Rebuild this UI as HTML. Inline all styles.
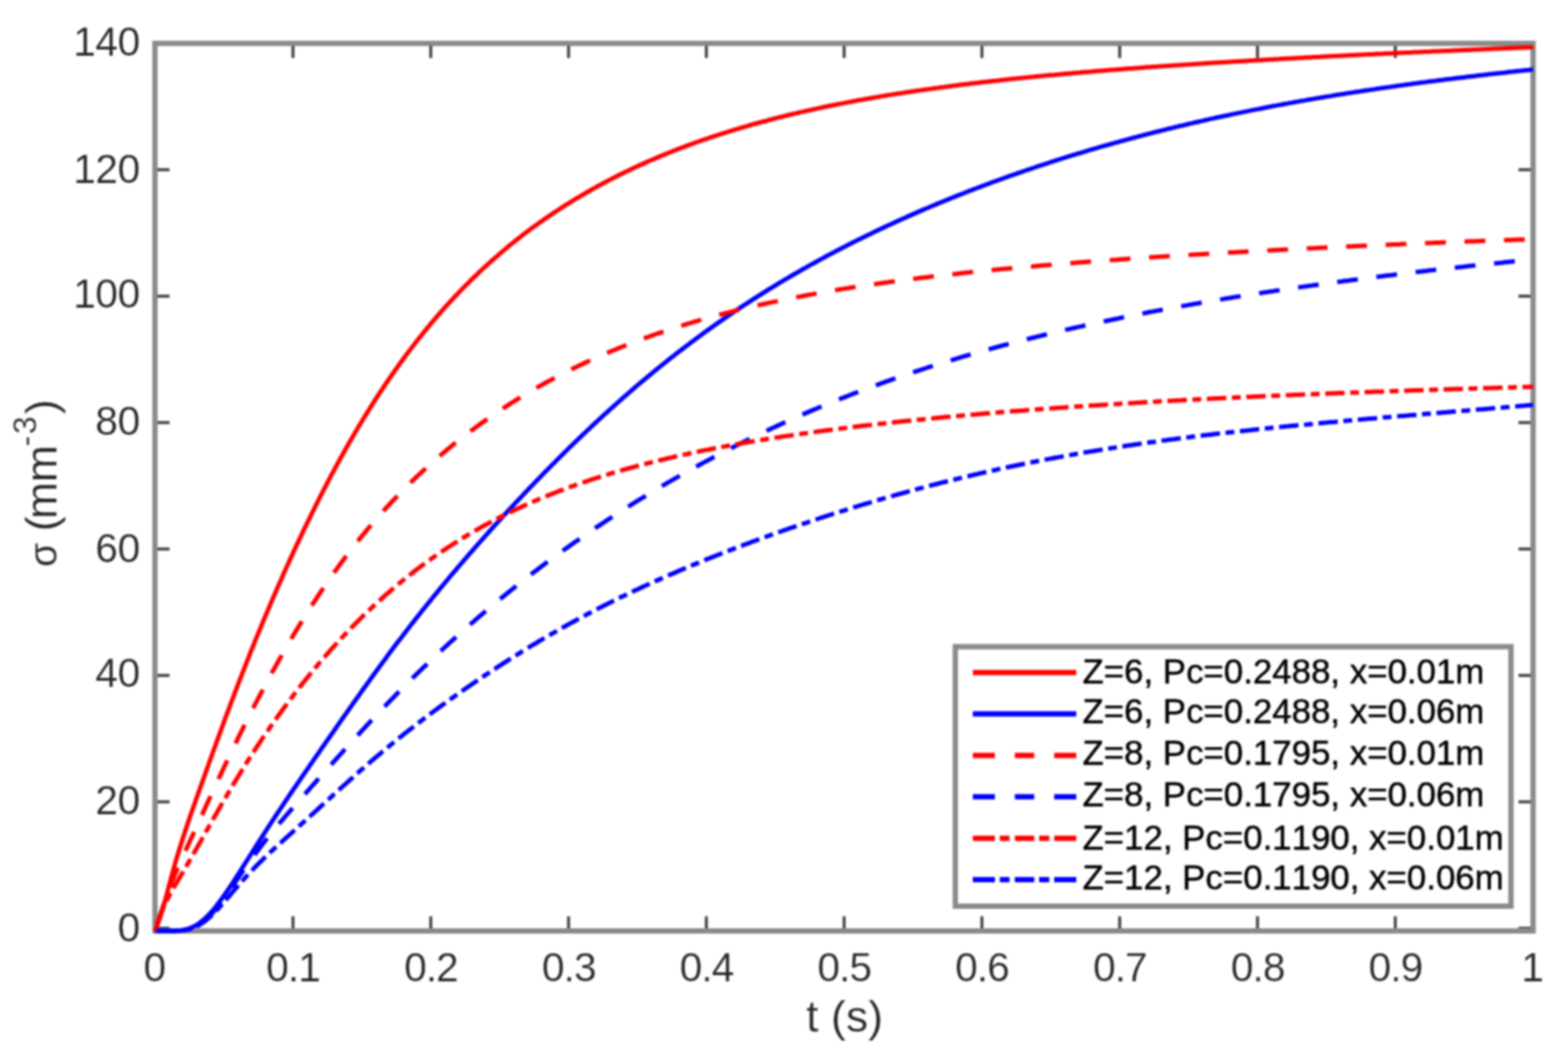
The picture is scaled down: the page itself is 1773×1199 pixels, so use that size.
<!DOCTYPE html>
<html lang="en"><head><meta charset="utf-8"><title>sigma vs t</title>
<style>
html,body{margin:0;padding:0;background:#fff;}
body{width:1773px;height:1199px;overflow:hidden;}
svg{display:block;filter:blur(0.8px);}
text{font-family:"Liberation Sans",sans-serif;fill:#262626;font-kerning:none;stroke:#fff;stroke-width:0.25px;paint-order:fill stroke;}
.tk{font-size:46px;}
.lb{font-size:50.5px;}
.lg{font-size:39.4px;fill:#000;stroke:#000;stroke-width:0.5px;}
</style></head><body>
<svg width="1773" height="1199" viewBox="0 0 1773 1199">
<rect x="0" y="0" width="1773" height="1199" fill="#ffffff"/>
<g stroke="#444444" stroke-width="3.4" fill="none"><line x1="175.50" y1="1053.0" x2="175.50" y2="1036.5"/><line x1="175.50" y1="49.1" x2="175.50" y2="65.6"/><line x1="331.30" y1="1053.0" x2="331.30" y2="1036.5"/><line x1="331.30" y1="49.1" x2="331.30" y2="65.6"/><line x1="487.10" y1="1053.0" x2="487.10" y2="1036.5"/><line x1="487.10" y1="49.1" x2="487.10" y2="65.6"/><line x1="642.90" y1="1053.0" x2="642.90" y2="1036.5"/><line x1="642.90" y1="49.1" x2="642.90" y2="65.6"/><line x1="798.70" y1="1053.0" x2="798.70" y2="1036.5"/><line x1="798.70" y1="49.1" x2="798.70" y2="65.6"/><line x1="954.50" y1="1053.0" x2="954.50" y2="1036.5"/><line x1="954.50" y1="49.1" x2="954.50" y2="65.6"/><line x1="1110.30" y1="1053.0" x2="1110.30" y2="1036.5"/><line x1="1110.30" y1="49.1" x2="1110.30" y2="65.6"/><line x1="1266.10" y1="1053.0" x2="1266.10" y2="1036.5"/><line x1="1266.10" y1="49.1" x2="1266.10" y2="65.6"/><line x1="1421.90" y1="1053.0" x2="1421.90" y2="1036.5"/><line x1="1421.90" y1="49.1" x2="1421.90" y2="65.6"/><line x1="1577.70" y1="1053.0" x2="1577.70" y2="1036.5"/><line x1="1577.70" y1="49.1" x2="1577.70" y2="65.6"/><line x1="1733.50" y1="1053.0" x2="1733.50" y2="1036.5"/><line x1="1733.50" y1="49.1" x2="1733.50" y2="65.6"/><line x1="175.25" y1="1050.00" x2="191.75" y2="1050.00"/><line x1="1733.5" y1="1050.00" x2="1717.0" y2="1050.00"/><line x1="175.25" y1="907.00" x2="191.75" y2="907.00"/><line x1="1733.5" y1="907.00" x2="1717.0" y2="907.00"/><line x1="175.25" y1="764.00" x2="191.75" y2="764.00"/><line x1="1733.5" y1="764.00" x2="1717.0" y2="764.00"/><line x1="175.25" y1="621.00" x2="191.75" y2="621.00"/><line x1="1733.5" y1="621.00" x2="1717.0" y2="621.00"/><line x1="175.25" y1="478.00" x2="191.75" y2="478.00"/><line x1="1733.5" y1="478.00" x2="1717.0" y2="478.00"/><line x1="175.25" y1="335.00" x2="191.75" y2="335.00"/><line x1="1733.5" y1="335.00" x2="1717.0" y2="335.00"/><line x1="175.25" y1="192.00" x2="191.75" y2="192.00"/><line x1="1733.5" y1="192.00" x2="1717.0" y2="192.00"/><line x1="175.25" y1="49.00" x2="191.75" y2="49.00"/><line x1="1733.5" y1="49.00" x2="1717.0" y2="49.00"/></g>
<rect x="175.25" y="49.1" width="1558.25" height="1003.9" fill="none" stroke="#8a8a8a" stroke-width="6.0"/>
<g fill="none" stroke-width="5.0" stroke-linejoin="round">
<path id="red_solid" stroke="#ff0000" d="M175.2,1053.0 L176.2,1050.7 L177.1,1048.4 L178.0,1046.0 L178.9,1043.7 L179.8,1041.3 L180.6,1039.0 L181.4,1036.6 L182.1,1034.2 L182.9,1031.8 L183.6,1029.4 L184.3,1027.0 L185.0,1024.6 L185.6,1022.2 L186.3,1019.8 L187.0,1017.4 L187.6,1015.0 L188.3,1012.6 L188.9,1010.2 L189.6,1007.7 L190.2,1005.3 L190.8,1002.9 L191.5,1000.5 L192.1,998.1 L192.8,995.7 L193.4,993.3 L194.1,990.9 L194.8,988.4 L195.4,986.0 L196.1,983.6 L196.8,981.2 L197.5,978.8 L198.1,976.4 L198.8,974.0 L199.5,971.6 L200.2,969.2 L201.0,966.8 L201.7,964.4 L202.4,962.0 L203.1,959.6 L203.9,957.2 L204.6,954.9 L205.4,952.5 L206.1,950.1 L206.9,947.7 L207.7,945.3 L208.5,943.0 L209.2,940.6 L210.0,938.2 L210.8,935.8 L211.6,933.5 L212.4,931.1 L213.2,928.7 L214.0,926.4 L214.8,924.0 L215.6,921.6 L216.5,919.3 L217.3,916.9 L218.1,914.6 L218.9,912.2 L219.8,909.8 L220.6,907.5 L221.4,905.1 L222.2,902.8 L223.1,900.4 L223.9,898.0 L224.7,895.7 L225.6,893.3 L226.4,891.0 L227.3,888.6 L228.1,886.3 L228.9,883.9 L229.8,881.6 L230.6,879.2 L231.5,876.8 L232.3,874.5 L233.1,872.1 L234.0,869.8 L234.8,867.4 L235.7,865.1 L236.5,862.7 L237.4,860.4 L238.2,858.0 L239.0,855.7 L239.9,853.3 L240.7,851.0 L241.6,848.6 L242.4,846.3 L243.3,843.9 L244.1,841.6 L245.0,839.2 L245.8,836.9 L246.7,834.5 L247.6,832.2 L248.4,829.8 L249.3,827.5 L250.1,825.1 L251.0,822.8 L251.9,820.4 L252.7,818.1 L253.6,815.7 L254.4,813.4 L255.3,811.0 L256.2,808.7 L257.0,806.4 L257.9,804.0 L258.8,801.7 L259.7,799.3 L260.5,797.0 L261.4,794.6 L262.3,792.3 L263.2,790.0 L264.1,787.6 L264.9,785.3 L265.8,782.9 L266.7,780.6 L267.6,778.3 L268.5,775.9 L269.4,773.6 L270.3,771.3 L271.2,768.9 L272.1,766.6 L273.0,764.3 L273.9,761.9 L274.8,759.6 L275.7,757.3 L276.6,754.9 L277.5,752.6 L278.4,750.3 L279.3,748.0 L280.3,745.6 L281.2,743.3 L282.1,741.0 L283.0,738.7 L283.9,736.3 L284.9,734.0 L285.8,731.7 L286.7,729.4 L287.7,727.1 L288.6,724.7 L289.5,722.4 L290.5,720.1 L291.4,717.8 L292.4,715.5 L293.3,713.2 L294.3,710.9 L295.2,708.5 L296.2,706.2 L297.1,703.9 L298.1,701.6 L299.1,699.3 L300.0,697.0 L301.0,694.7 L302.0,692.4 L302.9,690.1 L303.9,687.8 L304.9,685.5 L305.8,683.2 L306.8,680.9 L307.8,678.6 L308.8,676.3 L309.8,674.0 L310.8,671.7 L311.8,669.4 L312.8,667.1 L313.8,664.8 L314.8,662.5 L315.8,660.2 L316.8,657.9 L317.8,655.7 L318.8,653.4 L319.8,651.1 L320.8,648.8 L321.8,646.5 L322.8,644.2 L323.9,641.9 L324.9,639.7 L325.9,637.4 L327.0,635.1 L328.0,632.8 L329.0,630.6 L330.1,628.3 L331.1,626.0 L332.1,623.7 L333.2,621.5 L334.2,619.2 L335.3,616.9 L336.4,614.7 L337.4,612.4 L338.5,610.1 L339.5,607.9 L340.6,605.6 L341.7,603.4 L342.8,601.1 L343.8,598.8 L344.9,596.6 L346.0,594.3 L347.1,592.1 L348.2,589.8 L349.3,587.6 L350.4,585.3 L351.5,583.1 L352.6,580.8 L353.7,578.6 L354.8,576.4 L355.9,574.1 L357.0,571.9 L358.1,569.7 L359.2,567.4 L360.4,565.2 L361.5,563.0 L362.6,560.7 L363.8,558.5 L364.9,556.3 L366.0,554.1 L367.2,551.8 L368.3,549.6 L369.5,547.4 L370.6,545.2 L371.8,543.0 L373.0,540.7 L374.1,538.5 L375.3,536.3 L376.5,534.1 L377.7,531.9 L378.9,529.7 L380.0,527.5 L381.2,525.3 L382.4,523.1 L383.6,520.9 L384.8,518.7 L386.0,516.6 L387.3,514.4 L388.5,512.2 L389.7,510.0 L390.9,507.8 L392.1,505.6 L393.4,503.5 L394.6,501.3 L395.9,499.1 L397.1,497.0 L398.4,494.8 L399.6,492.6 L400.9,490.5 L402.1,488.3 L403.4,486.2 L404.7,484.0 L406.0,481.9 L407.2,479.7 L408.5,477.6 L409.8,475.4 L411.1,473.3 L412.4,471.2 L413.7,469.0 L415.1,466.9 L416.4,464.8 L417.7,462.7 L419.0,460.6 L420.4,458.4 L421.7,456.3 L423.0,454.2 L424.4,452.1 L425.7,450.0 L427.1,447.9 L428.5,445.8 L429.8,443.7 L431.2,441.6 L432.6,439.6 L434.0,437.5 L435.4,435.4 L436.8,433.3 L438.2,431.3 L439.6,429.2 L441.0,427.1 L442.4,425.1 L443.8,423.0 L445.3,421.0 L446.7,418.9 L448.2,416.9 L449.6,414.8 L451.1,412.8 L452.5,410.8 L454.0,408.8 L455.5,406.7 L456.9,404.7 L458.4,402.7 L459.9,400.7 L461.4,398.7 L462.9,396.7 L464.4,394.7 L465.9,392.7 L467.5,390.7 L469.0,388.8 L470.5,386.8 L472.1,384.8 L473.6,382.9 L475.2,380.9 L476.7,378.9 L478.3,377.0 L479.9,375.1 L481.4,373.1 L483.0,371.2 L484.6,369.3 L486.2,367.3 L487.8,365.4 L489.4,363.5 L491.0,361.6 L492.7,359.7 L494.3,357.8 L495.9,355.9 L497.6,354.0 L499.2,352.1 L500.9,350.3 L502.5,348.4 L504.2,346.5 L505.9,344.7 L507.6,342.8 L509.3,341.0 L511.0,339.2 L512.7,337.3 L514.4,335.5 L516.1,333.7 L517.8,331.9 L519.5,330.1 L521.3,328.3 L523.0,326.5 L524.8,324.7 L526.5,322.9 L528.3,321.2 L530.1,319.4 L531.8,317.6 L533.6,315.9 L535.4,314.1 L537.2,312.4 L539.0,310.7 L540.8,308.9 L542.6,307.2 L544.5,305.5 L546.3,303.8 L548.1,302.1 L550.0,300.4 L551.8,298.7 L553.7,297.1 L555.5,295.4 L557.4,293.7 L559.3,292.1 L561.2,290.4 L563.1,288.8 L564.9,287.2 L566.8,285.5 L568.8,283.9 L570.7,282.3 L572.6,280.7 L574.5,279.1 L576.4,277.5 L578.4,275.9 L580.3,274.4 L582.3,272.8 L584.2,271.3 L586.2,269.7 L588.2,268.2 L590.1,266.6 L592.1,265.1 L594.1,263.6 L596.1,262.1 L598.1,260.6 L600.1,259.1 L602.1,257.6 L604.1,256.1 L606.2,254.7 L608.2,253.2 L610.2,251.7 L612.3,250.3 L614.3,248.9 L616.4,247.4 L618.4,246.0 L620.5,244.6 L622.5,243.2 L624.6,241.8 L626.7,240.4 L628.8,239.0 L630.9,237.6 L633.0,236.3 L635.1,234.9 L637.2,233.6 L639.3,232.2 L641.4,230.9 L643.5,229.6 L645.6,228.3 L647.8,226.9 L649.9,225.6 L652.0,224.3 L654.2,223.1 L656.3,221.8 L658.5,220.5 L660.6,219.3 L662.8,218.0 L665.0,216.8 L667.1,215.5 L669.3,214.3 L671.5,213.1 L673.7,211.9 L675.9,210.6 L678.1,209.5 L680.3,208.3 L682.5,207.1 L684.7,205.9 L686.9,204.7 L689.1,203.6 L691.3,202.4 L693.6,201.3 L695.8,200.2 L698.0,199.0 L700.2,197.9 L702.5,196.8 L704.7,195.7 L707.0,194.6 L709.2,193.5 L711.5,192.4 L713.7,191.4 L716.0,190.3 L718.3,189.2 L720.5,188.2 L722.8,187.1 L725.1,186.1 L727.4,185.1 L729.6,184.1 L731.9,183.0 L734.2,182.0 L736.5,181.0 L738.8,180.1 L741.1,179.1 L743.4,178.1 L745.7,177.1 L748.0,176.2 L750.3,175.2 L752.6,174.3 L755.0,173.3 L757.3,172.4 L759.6,171.5 L761.9,170.5 L764.3,169.6 L766.6,168.7 L768.9,167.8 L771.3,166.9 L773.6,166.1 L775.9,165.2 L778.3,164.3 L780.6,163.4 L783.0,162.6 L785.3,161.7 L787.7,160.9 L790.0,160.1 L792.4,159.2 L794.8,158.4 L797.1,157.6 L799.5,156.8 L801.8,156.0 L804.2,155.2 L806.6,154.4 L809.0,153.6 L811.3,152.8 L813.7,152.0 L816.1,151.3 L818.5,150.5 L820.9,149.8 L823.2,149.0 L825.6,148.3 L828.0,147.5 L830.4,146.8 L832.8,146.1 L835.2,145.4 L837.6,144.7 L840.0,144.0 L842.4,143.3 L844.8,142.6 L847.2,141.9 L849.6,141.2 L852.0,140.5 L854.4,139.8 L856.8,139.2 L859.2,138.5 L861.7,137.8 L864.1,137.2 L866.5,136.6 L868.9,135.9 L871.3,135.3 L873.7,134.6 L876.2,134.0 L878.6,133.4 L881.0,132.8 L883.4,132.2 L885.9,131.6 L888.3,131.0 L890.7,130.4 L893.1,129.8 L895.6,129.2 L898.0,128.6 L900.4,128.1 L902.9,127.5 L905.3,126.9 L907.7,126.4 L910.2,125.8 L912.6,125.3 L915.1,124.7 L917.5,124.2 L919.9,123.6 L922.4,123.1 L924.8,122.6 L927.3,122.1 L929.7,121.5 L932.2,121.0 L934.6,120.5 L937.1,120.0 L939.5,119.5 L942.0,119.0 L944.4,118.5 L946.9,118.0 L949.3,117.5 L951.8,117.1 L954.2,116.6 L956.7,116.1 L959.1,115.6 L961.6,115.2 L964.0,114.7 L966.5,114.3 L969.0,113.8 L971.4,113.3 L973.9,112.9 L976.3,112.5 L978.8,112.0 L981.3,111.6 L983.7,111.2 L986.2,110.7 L988.6,110.3 L991.1,109.9 L993.6,109.5 L996.0,109.0 L998.5,108.6 L1001.0,108.2 L1003.4,107.8 L1005.9,107.4 L1008.4,107.0 L1010.8,106.6 L1013.3,106.2 L1015.8,105.8 L1018.3,105.5 L1020.7,105.1 L1023.2,104.7 L1025.7,104.3 L1028.1,103.9 L1030.6,103.6 L1033.1,103.2 L1035.6,102.8 L1038.0,102.5 L1040.5,102.1 L1043.0,101.8 L1045.5,101.4 L1047.9,101.1 L1050.4,100.7 L1052.9,100.4 L1055.4,100.0 L1057.8,99.7 L1060.3,99.4 L1062.8,99.0 L1065.3,98.7 L1067.7,98.4 L1070.2,98.0 L1072.7,97.7 L1075.2,97.4 L1077.7,97.1 L1080.1,96.8 L1082.6,96.4 L1085.1,96.1 L1087.6,95.8 L1090.1,95.5 L1092.5,95.2 L1095.0,94.9 L1097.5,94.6 L1100.0,94.3 L1102.5,94.0 L1105.0,93.7 L1107.4,93.4 L1109.9,93.1 L1112.4,92.8 L1114.9,92.6 L1117.4,92.3 L1119.9,92.0 L1122.3,91.7 L1124.8,91.4 L1127.3,91.2 L1129.8,90.9 L1132.3,90.6 L1134.8,90.4 L1137.3,90.1 L1139.7,89.8 L1142.2,89.6 L1144.7,89.3 L1147.2,89.0 L1149.7,88.8 L1152.2,88.5 L1154.7,88.3 L1157.1,88.0 L1159.6,87.8 L1162.1,87.5 L1164.6,87.3 L1167.1,87.0 L1169.6,86.8 L1172.1,86.5 L1174.6,86.3 L1177.1,86.1 L1179.5,85.8 L1182.0,85.6 L1184.5,85.3 L1187.0,85.1 L1189.5,84.9 L1192.0,84.7 L1194.5,84.4 L1197.0,84.2 L1199.5,84.0 L1201.9,83.7 L1204.4,83.5 L1206.9,83.3 L1209.4,83.1 L1211.9,82.9 L1214.4,82.6 L1216.9,82.4 L1219.4,82.2 L1221.9,82.0 L1224.4,81.8 L1226.9,81.6 L1229.3,81.4 L1231.8,81.2 L1234.3,81.0 L1236.8,80.7 L1239.3,80.5 L1241.8,80.3 L1244.3,80.1 L1246.8,79.9 L1249.3,79.7 L1251.8,79.5 L1254.3,79.3 L1256.8,79.1 L1259.2,78.9 L1261.7,78.8 L1264.2,78.6 L1266.7,78.4 L1269.2,78.2 L1271.7,78.0 L1274.2,77.8 L1276.7,77.6 L1279.2,77.4 L1281.7,77.2 L1284.2,77.1 L1286.7,76.9 L1289.2,76.7 L1291.7,76.5 L1294.1,76.3 L1296.6,76.1 L1299.1,76.0 L1301.6,75.8 L1304.1,75.6 L1306.6,75.4 L1309.1,75.3 L1311.6,75.1 L1314.1,74.9 L1316.6,74.7 L1319.1,74.6 L1321.6,74.4 L1324.1,74.2 L1326.6,74.1 L1329.1,73.9 L1331.6,73.7 L1334.0,73.6 L1336.5,73.4 L1339.0,73.2 L1341.5,73.1 L1344.0,72.9 L1346.5,72.7 L1349.0,72.6 L1351.5,72.4 L1354.0,72.2 L1356.5,72.1 L1359.0,71.9 L1361.5,71.8 L1364.0,71.6 L1366.5,71.5 L1369.0,71.3 L1371.5,71.1 L1374.0,71.0 L1376.5,70.8 L1379.0,70.7 L1381.5,70.5 L1383.9,70.4 L1386.4,70.2 L1388.9,70.1 L1391.4,69.9 L1393.9,69.8 L1396.4,69.6 L1398.9,69.5 L1401.4,69.3 L1403.9,69.2 L1406.4,69.0 L1408.9,68.9 L1411.4,68.7 L1413.9,68.6 L1416.4,68.4 L1418.9,68.3 L1421.4,68.2 L1423.9,68.0 L1426.4,67.9 L1428.9,67.7 L1431.4,67.6 L1433.9,67.4 L1436.4,67.3 L1438.9,67.2 L1441.4,67.0 L1443.8,66.9 L1446.3,66.8 L1448.8,66.6 L1451.3,66.5 L1453.8,66.3 L1456.3,66.2 L1458.8,66.1 L1461.3,65.9 L1463.8,65.8 L1466.3,65.7 L1468.8,65.5 L1471.3,65.4 L1473.8,65.3 L1476.3,65.1 L1478.8,65.0 L1481.3,64.9 L1483.8,64.7 L1486.3,64.6 L1488.8,64.5 L1491.3,64.4 L1493.8,64.2 L1496.3,64.1 L1498.8,64.0 L1501.3,63.8 L1503.8,63.7 L1506.3,63.6 L1508.8,63.5 L1511.3,63.3 L1513.8,63.2 L1516.2,63.1 L1518.7,63.0 L1521.2,62.8 L1523.7,62.7 L1526.2,62.6 L1528.7,62.5 L1531.2,62.3 L1533.7,62.2 L1536.2,62.1 L1538.7,62.0 L1541.2,61.8 L1543.7,61.7 L1546.2,61.6 L1548.7,61.5 L1551.2,61.4 L1553.7,61.2 L1556.2,61.1 L1558.7,61.0 L1561.2,60.9 L1563.7,60.8 L1566.2,60.6 L1568.7,60.5 L1571.2,60.4 L1573.7,60.3 L1576.2,60.2 L1578.7,60.1 L1581.2,59.9 L1583.7,59.8 L1586.2,59.7 L1588.7,59.6 L1591.2,59.5 L1593.7,59.4 L1596.2,59.3 L1598.7,59.1 L1601.2,59.0 L1603.6,58.9 L1606.1,58.8 L1608.6,58.7 L1611.1,58.6 L1613.6,58.5 L1616.1,58.4 L1618.6,58.2 L1621.1,58.1 L1623.6,58.0 L1626.1,57.9 L1628.6,57.8 L1631.1,57.7 L1633.6,57.6 L1636.1,57.5 L1638.6,57.4 L1641.1,57.3 L1643.6,57.1 L1646.1,57.0 L1648.6,56.9 L1651.1,56.8 L1653.6,56.7 L1656.1,56.6 L1658.6,56.5 L1661.1,56.4 L1663.6,56.3 L1666.1,56.2 L1668.6,56.1 L1671.1,56.0 L1673.6,55.9 L1676.1,55.8 L1678.6,55.7 L1681.1,55.5 L1683.6,55.4 L1686.1,55.3 L1688.6,55.2 L1691.1,55.1 L1693.6,55.0 L1696.1,54.9 L1698.6,54.8 L1701.1,54.7 L1703.6,54.6 L1706.1,54.5 L1708.6,54.4 L1711.0,54.3 L1713.5,54.2 L1716.0,54.1 L1718.5,54.0 L1721.0,53.9 L1723.5,53.8 L1726.0,53.7 L1728.5,53.6 L1731.0,53.5 L1733.5,53.4"/>
<path id="blue_solid" stroke="#0000ff" d="M175.2,1053.0 L177.8,1053.0 L180.2,1053.0 L182.7,1053.0 L185.2,1053.0 L187.7,1053.0 L190.2,1053.0 L192.7,1053.0 L195.2,1052.9 L197.7,1052.9 L200.2,1052.7 L202.7,1052.5 L205.2,1052.2 L207.7,1051.8 L210.1,1051.3 L212.5,1050.7 L214.9,1049.9 L217.2,1048.9 L219.5,1047.8 L221.7,1046.6 L223.8,1045.3 L225.8,1043.9 L227.8,1042.3 L229.7,1040.8 L231.6,1039.1 L233.4,1037.4 L235.2,1035.6 L236.9,1033.8 L238.6,1032.0 L240.3,1030.1 L241.9,1028.2 L243.5,1026.2 L245.0,1024.3 L246.5,1022.3 L248.1,1020.3 L249.5,1018.3 L251.0,1016.3 L252.5,1014.2 L253.9,1012.2 L255.3,1010.1 L256.8,1008.1 L258.2,1006.0 L259.6,1003.9 L260.9,1001.9 L262.3,999.8 L263.7,997.7 L265.1,995.6 L266.4,993.5 L267.8,991.4 L269.1,989.3 L270.5,987.2 L271.8,985.1 L273.2,983.0 L274.5,980.9 L275.8,978.7 L277.2,976.6 L278.5,974.5 L279.8,972.4 L281.2,970.3 L282.5,968.2 L283.9,966.1 L285.2,964.0 L286.5,961.8 L287.9,959.7 L289.2,957.6 L290.6,955.5 L291.9,953.4 L293.2,951.3 L294.6,949.2 L295.9,947.1 L297.3,945.0 L298.7,942.9 L300.0,940.8 L301.4,938.7 L302.7,936.6 L304.1,934.5 L305.5,932.4 L306.8,930.3 L308.2,928.2 L309.6,926.1 L310.9,924.0 L312.3,922.0 L313.7,919.9 L315.1,917.8 L316.5,915.7 L317.9,913.6 L319.3,911.6 L320.6,909.5 L322.0,907.4 L323.4,905.3 L324.8,903.3 L326.2,901.2 L327.6,899.1 L329.0,897.0 L330.4,895.0 L331.8,892.9 L333.3,890.8 L334.7,888.8 L336.1,886.7 L337.5,884.6 L338.9,882.6 L340.3,880.5 L341.7,878.5 L343.1,876.4 L344.6,874.3 L346.0,872.3 L347.4,870.2 L348.8,868.2 L350.2,866.1 L351.6,864.0 L353.1,862.0 L354.5,859.9 L355.9,857.9 L357.3,855.8 L358.8,853.8 L360.2,851.7 L361.6,849.7 L363.0,847.6 L364.4,845.5 L365.9,843.5 L367.3,841.4 L368.7,839.4 L370.1,837.3 L371.6,835.3 L373.0,833.2 L374.4,831.2 L375.9,829.1 L377.3,827.1 L378.7,825.0 L380.1,823.0 L381.6,820.9 L383.0,818.9 L384.4,816.8 L385.9,814.8 L387.3,812.7 L388.7,810.7 L390.2,808.6 L391.6,806.6 L393.1,804.5 L394.5,802.5 L395.9,800.4 L397.4,798.4 L398.8,796.4 L400.3,794.3 L401.7,792.3 L403.1,790.2 L404.6,788.2 L406.0,786.2 L407.5,784.1 L408.9,782.1 L410.4,780.1 L411.8,778.0 L413.3,776.0 L414.8,774.0 L416.2,771.9 L417.7,769.9 L419.1,767.9 L420.6,765.8 L422.1,763.8 L423.5,761.8 L425.0,759.8 L426.5,757.8 L428.0,755.7 L429.4,753.7 L430.9,751.7 L432.4,749.7 L433.9,747.7 L435.4,745.7 L436.8,743.7 L438.3,741.6 L439.8,739.6 L441.3,737.6 L442.8,735.6 L444.3,733.6 L445.8,731.6 L447.3,729.6 L448.8,727.6 L450.3,725.6 L451.8,723.7 L453.4,721.7 L454.9,719.7 L456.4,717.7 L457.9,715.7 L459.4,713.7 L461.0,711.7 L462.5,709.8 L464.0,707.8 L465.6,705.8 L467.1,703.9 L468.6,701.9 L470.2,699.9 L471.7,697.9 L473.3,696.0 L474.8,694.0 L476.4,692.1 L477.9,690.1 L479.5,688.2 L481.1,686.2 L482.6,684.3 L484.2,682.3 L485.8,680.4 L487.3,678.4 L488.9,676.5 L490.5,674.5 L492.1,672.6 L493.6,670.7 L495.2,668.7 L496.8,666.8 L498.4,664.9 L500.0,662.9 L501.6,661.0 L503.2,659.1 L504.8,657.2 L506.4,655.3 L508.0,653.3 L509.6,651.4 L511.2,649.5 L512.8,647.6 L514.5,645.7 L516.1,643.8 L517.7,641.9 L519.3,640.0 L520.9,638.1 L522.6,636.2 L524.2,634.3 L525.8,632.4 L527.5,630.5 L529.1,628.6 L530.7,626.7 L532.4,624.8 L534.0,623.0 L535.7,621.1 L537.3,619.2 L539.0,617.3 L540.6,615.4 L542.3,613.6 L543.9,611.7 L545.6,609.8 L547.3,608.0 L548.9,606.1 L550.6,604.2 L552.2,602.4 L553.9,600.5 L555.6,598.6 L557.3,596.8 L558.9,594.9 L560.6,593.1 L562.3,591.2 L564.0,589.4 L565.7,587.5 L567.4,585.7 L569.0,583.8 L570.7,582.0 L572.4,580.2 L574.1,578.3 L575.8,576.5 L577.5,574.7 L579.2,572.8 L580.9,571.0 L582.6,569.2 L584.3,567.3 L586.1,565.5 L587.8,563.7 L589.5,561.9 L591.2,560.1 L592.9,558.2 L594.6,556.4 L596.4,554.6 L598.1,552.8 L599.8,551.0 L601.5,549.2 L603.3,547.4 L605.0,545.6 L606.7,543.8 L608.5,542.0 L610.2,540.2 L612.0,538.4 L613.7,536.6 L615.5,534.8 L617.2,533.1 L619.0,531.3 L620.7,529.5 L622.5,527.7 L624.2,525.9 L626.0,524.2 L627.8,522.4 L629.5,520.6 L631.3,518.8 L633.1,517.1 L634.8,515.3 L636.6,513.6 L638.4,511.8 L640.2,510.0 L641.9,508.3 L643.7,506.5 L645.5,504.8 L647.3,503.1 L649.1,501.3 L650.9,499.6 L652.7,497.8 L654.5,496.1 L656.3,494.4 L658.1,492.6 L659.9,490.9 L661.7,489.2 L663.5,487.5 L665.4,485.7 L667.2,484.0 L669.0,482.3 L670.8,480.6 L672.6,478.9 L674.5,477.2 L676.3,475.5 L678.1,473.8 L680.0,472.1 L681.8,470.4 L683.7,468.7 L685.5,467.0 L687.4,465.4 L689.2,463.7 L691.1,462.0 L692.9,460.3 L694.8,458.7 L696.6,457.0 L698.5,455.3 L700.4,453.7 L702.2,452.0 L704.1,450.4 L706.0,448.7 L707.9,447.1 L709.8,445.4 L711.7,443.8 L713.5,442.1 L715.4,440.5 L717.3,438.9 L719.2,437.2 L721.1,435.6 L723.0,434.0 L724.9,432.4 L726.9,430.8 L728.8,429.2 L730.7,427.6 L732.6,426.0 L734.5,424.4 L736.5,422.8 L738.4,421.2 L740.3,419.6 L742.2,418.0 L744.2,416.4 L746.1,414.9 L748.1,413.3 L750.0,411.7 L752.0,410.2 L753.9,408.6 L755.9,407.0 L757.8,405.5 L759.8,403.9 L761.8,402.4 L763.7,400.9 L765.7,399.3 L767.7,397.8 L769.7,396.3 L771.7,394.7 L773.6,393.2 L775.6,391.7 L777.6,390.2 L779.6,388.7 L781.6,387.2 L783.6,385.7 L785.6,384.2 L787.6,382.7 L789.6,381.2 L791.7,379.7 L793.7,378.3 L795.7,376.8 L797.7,375.3 L799.7,373.9 L801.8,372.4 L803.8,370.9 L805.8,369.5 L807.9,368.0 L809.9,366.6 L812.0,365.2 L814.0,363.7 L816.1,362.3 L818.1,360.9 L820.2,359.5 L822.2,358.0 L824.3,356.6 L826.4,355.2 L828.4,353.8 L830.5,352.4 L832.6,351.0 L834.7,349.6 L836.7,348.2 L838.8,346.9 L840.9,345.5 L843.0,344.1 L845.1,342.8 L847.2,341.4 L849.3,340.0 L851.4,338.7 L853.5,337.3 L855.6,336.0 L857.7,334.6 L859.8,333.3 L861.9,332.0 L864.1,330.6 L866.2,329.3 L868.3,328.0 L870.4,326.7 L872.6,325.4 L874.7,324.1 L876.8,322.8 L879.0,321.5 L881.1,320.2 L883.2,318.9 L885.4,317.6 L887.5,316.3 L889.7,315.1 L891.8,313.8 L894.0,312.5 L896.2,311.3 L898.3,310.0 L900.5,308.8 L902.7,307.5 L904.8,306.3 L907.0,305.0 L909.2,303.8 L911.3,302.6 L913.5,301.3 L915.7,300.1 L917.9,298.9 L920.1,297.7 L922.3,296.5 L924.5,295.3 L926.6,294.1 L928.8,292.9 L931.0,291.7 L933.2,290.5 L935.4,289.3 L937.6,288.1 L939.9,287.0 L942.1,285.8 L944.3,284.6 L946.5,283.5 L948.7,282.3 L950.9,281.2 L953.1,280.0 L955.4,278.9 L957.6,277.7 L959.8,276.6 L962.1,275.5 L964.3,274.3 L966.5,273.2 L968.8,272.1 L971.0,271.0 L973.2,269.9 L975.5,268.8 L977.7,267.7 L980.0,266.6 L982.2,265.5 L984.5,264.4 L986.7,263.3 L989.0,262.2 L991.2,261.1 L993.5,260.1 L995.7,259.0 L998.0,257.9 L1000.3,256.9 L1002.5,255.8 L1004.8,254.8 L1007.1,253.7 L1009.3,252.7 L1011.6,251.6 L1013.9,250.6 L1016.2,249.5 L1018.4,248.5 L1020.7,247.5 L1023.0,246.5 L1025.3,245.4 L1027.6,244.4 L1029.9,243.4 L1032.1,242.4 L1034.4,241.4 L1036.7,240.4 L1039.0,239.4 L1041.3,238.4 L1043.6,237.4 L1045.9,236.4 L1048.2,235.5 L1050.5,234.5 L1052.8,233.5 L1055.1,232.5 L1057.4,231.6 L1059.7,230.6 L1062.0,229.7 L1064.3,228.7 L1066.7,227.8 L1069.0,226.8 L1071.3,225.9 L1073.6,224.9 L1075.9,224.0 L1078.2,223.1 L1080.6,222.1 L1082.9,221.2 L1085.2,220.3 L1087.5,219.4 L1089.9,218.5 L1092.2,217.5 L1094.5,216.6 L1096.9,215.7 L1099.2,214.8 L1101.5,213.9 L1103.9,213.0 L1106.2,212.2 L1108.5,211.3 L1110.9,210.4 L1113.2,209.5 L1115.5,208.6 L1117.9,207.8 L1120.2,206.9 L1122.6,206.0 L1124.9,205.2 L1127.3,204.3 L1129.6,203.5 L1132.0,202.6 L1134.3,201.8 L1136.7,200.9 L1139.0,200.1 L1141.4,199.2 L1143.8,198.4 L1146.1,197.6 L1148.5,196.8 L1150.8,195.9 L1153.2,195.1 L1155.6,194.3 L1157.9,193.5 L1160.3,192.7 L1162.7,191.9 L1165.0,191.1 L1167.4,190.3 L1169.8,189.5 L1172.1,188.7 L1174.5,187.9 L1176.9,187.1 L1179.2,186.3 L1181.6,185.5 L1184.0,184.8 L1186.4,184.0 L1188.8,183.2 L1191.1,182.5 L1193.5,181.7 L1195.9,180.9 L1198.3,180.2 L1200.7,179.4 L1203.0,178.7 L1205.4,177.9 L1207.8,177.2 L1210.2,176.4 L1212.6,175.7 L1215.0,175.0 L1217.4,174.2 L1219.8,173.5 L1222.2,172.8 L1224.6,172.1 L1227.0,171.3 L1229.3,170.6 L1231.7,169.9 L1234.1,169.2 L1236.5,168.5 L1238.9,167.8 L1241.3,167.1 L1243.7,166.4 L1246.1,165.7 L1248.5,165.0 L1251.0,164.3 L1253.4,163.7 L1255.8,163.0 L1258.2,162.3 L1260.6,161.6 L1263.0,161.0 L1265.4,160.3 L1267.8,159.6 L1270.2,159.0 L1272.6,158.3 L1275.0,157.7 L1277.5,157.0 L1279.9,156.3 L1282.3,155.7 L1284.7,155.1 L1287.1,154.4 L1289.5,153.8 L1291.9,153.1 L1294.4,152.5 L1296.8,151.9 L1299.2,151.3 L1301.6,150.6 L1304.1,150.0 L1306.5,149.4 L1308.9,148.8 L1311.3,148.2 L1313.7,147.6 L1316.2,147.0 L1318.6,146.4 L1321.0,145.8 L1323.5,145.2 L1325.9,144.6 L1328.3,144.0 L1330.7,143.4 L1333.2,142.8 L1335.6,142.2 L1338.0,141.7 L1340.5,141.1 L1342.9,140.5 L1345.3,139.9 L1347.8,139.4 L1350.2,138.8 L1352.6,138.2 L1355.1,137.7 L1357.5,137.1 L1360.0,136.6 L1362.4,136.0 L1364.8,135.5 L1367.3,134.9 L1369.7,134.4 L1372.2,133.9 L1374.6,133.3 L1377.0,132.8 L1379.5,132.3 L1381.9,131.7 L1384.4,131.2 L1386.8,130.7 L1389.3,130.2 L1391.7,129.6 L1394.2,129.1 L1396.6,128.6 L1399.0,128.1 L1401.5,127.6 L1403.9,127.1 L1406.4,126.6 L1408.8,126.1 L1411.3,125.6 L1413.7,125.1 L1416.2,124.6 L1418.6,124.1 L1421.1,123.6 L1423.6,123.2 L1426.0,122.7 L1428.5,122.2 L1430.9,121.7 L1433.4,121.2 L1435.8,120.8 L1438.3,120.3 L1440.7,119.8 L1443.2,119.4 L1445.6,118.9 L1448.1,118.5 L1450.6,118.0 L1453.0,117.5 L1455.5,117.1 L1457.9,116.6 L1460.4,116.2 L1462.9,115.8 L1465.3,115.3 L1467.8,114.9 L1470.2,114.4 L1472.7,114.0 L1475.2,113.6 L1477.6,113.1 L1480.1,112.7 L1482.6,112.3 L1485.0,111.9 L1487.5,111.4 L1490.0,111.0 L1492.4,110.6 L1494.9,110.2 L1497.3,109.8 L1499.8,109.4 L1502.3,109.0 L1504.7,108.6 L1507.2,108.1 L1509.7,107.7 L1512.1,107.3 L1514.6,106.9 L1517.1,106.6 L1519.6,106.2 L1522.0,105.8 L1524.5,105.4 L1527.0,105.0 L1529.4,104.6 L1531.9,104.2 L1534.4,103.8 L1536.8,103.5 L1539.3,103.1 L1541.8,102.7 L1544.3,102.3 L1546.7,102.0 L1549.2,101.6 L1551.7,101.2 L1554.2,100.9 L1556.6,100.5 L1559.1,100.1 L1561.6,99.8 L1564.0,99.4 L1566.5,99.1 L1569.0,98.7 L1571.5,98.4 L1573.9,98.0 L1576.4,97.7 L1578.9,97.3 L1581.4,97.0 L1583.9,96.6 L1586.3,96.3 L1588.8,95.9 L1591.3,95.6 L1593.8,95.3 L1596.2,94.9 L1598.7,94.6 L1601.2,94.3 L1603.7,93.9 L1606.1,93.6 L1608.6,93.3 L1611.1,93.0 L1613.6,92.6 L1616.1,92.3 L1618.5,92.0 L1621.0,91.7 L1623.5,91.4 L1626.0,91.0 L1628.5,90.7 L1630.9,90.4 L1633.4,90.1 L1635.9,89.8 L1638.4,89.5 L1640.9,89.2 L1643.3,88.9 L1645.8,88.6 L1648.3,88.3 L1650.8,88.0 L1653.3,87.7 L1655.8,87.4 L1658.2,87.1 L1660.7,86.8 L1663.2,86.5 L1665.7,86.2 L1668.2,85.9 L1670.6,85.6 L1673.1,85.3 L1675.6,85.0 L1678.1,84.7 L1680.6,84.4 L1683.1,84.1 L1685.5,83.8 L1688.0,83.6 L1690.5,83.3 L1693.0,83.0 L1695.5,82.7 L1698.0,82.4 L1700.5,82.2 L1702.9,81.9 L1705.4,81.6 L1707.9,81.3 L1710.4,81.1 L1712.9,80.8 L1715.4,80.5 L1717.8,80.2 L1720.3,80.0 L1722.8,79.7 L1725.3,79.4 L1727.8,79.2 L1730.3,78.9 L1732.8,78.6 L1733.5,78.5"/>
<path id="red_dash" stroke="#ff0000" stroke-dasharray="23.5,21.15" stroke-dashoffset="-7.800000000000001" d="M175.2,1053.0 L176.1,1050.6 L176.9,1048.3 L177.7,1045.9 L178.5,1043.5 L179.3,1041.2 L180.0,1038.8 L180.8,1036.4 L181.5,1034.0 L182.3,1031.6 L183.1,1029.3 L183.8,1026.9 L184.6,1024.5 L185.4,1022.1 L186.2,1019.8 L187.0,1017.4 L187.8,1015.0 L188.6,1012.7 L189.5,1010.3 L190.3,1008.0 L191.2,1005.6 L192.1,1003.3 L193.0,1001.0 L193.9,998.6 L194.8,996.3 L195.8,994.0 L196.7,991.7 L197.7,989.4 L198.7,987.1 L199.7,984.8 L200.7,982.5 L201.7,980.2 L202.7,977.9 L203.7,975.6 L204.7,973.3 L205.8,971.1 L206.8,968.8 L207.8,966.5 L208.9,964.2 L209.9,962.0 L210.9,959.7 L212.0,957.4 L213.0,955.1 L214.1,952.9 L215.1,950.6 L216.2,948.3 L217.2,946.1 L218.3,943.8 L219.3,941.5 L220.3,939.2 L221.4,937.0 L222.4,934.7 L223.5,932.4 L224.5,930.2 L225.5,927.9 L226.6,925.6 L227.6,923.3 L228.7,921.1 L229.7,918.8 L230.8,916.5 L231.8,914.2 L232.8,912.0 L233.9,909.7 L234.9,907.4 L236.0,905.2 L237.0,902.9 L238.1,900.6 L239.1,898.4 L240.2,896.1 L241.2,893.8 L242.3,891.5 L243.3,889.3 L244.4,887.0 L245.4,884.7 L246.5,882.5 L247.5,880.2 L248.6,877.9 L249.7,875.7 L250.7,873.4 L251.8,871.2 L252.9,868.9 L253.9,866.6 L255.0,864.4 L256.1,862.1 L257.1,859.9 L258.2,857.6 L259.3,855.4 L260.4,853.1 L261.5,850.9 L262.6,848.6 L263.6,846.3 L264.7,844.1 L265.8,841.9 L266.9,839.6 L268.0,837.4 L269.1,835.1 L270.2,832.9 L271.3,830.6 L272.4,828.4 L273.6,826.1 L274.7,823.9 L275.8,821.7 L276.9,819.4 L278.0,817.2 L279.1,815.0 L280.3,812.7 L281.4,810.5 L282.5,808.3 L283.7,806.1 L284.8,803.8 L286.0,801.6 L287.1,799.4 L288.2,797.2 L289.4,794.9 L290.6,792.7 L291.7,790.5 L292.9,788.3 L294.0,786.1 L295.2,783.9 L296.4,781.7 L297.5,779.4 L298.7,777.2 L299.9,775.0 L301.1,772.8 L302.3,770.6 L303.4,768.4 L304.6,766.2 L305.8,764.0 L307.0,761.8 L308.2,759.7 L309.4,757.5 L310.7,755.3 L311.9,753.1 L313.1,750.9 L314.3,748.7 L315.5,746.5 L316.8,744.4 L318.0,742.2 L319.2,740.0 L320.5,737.9 L321.7,735.7 L323.0,733.5 L324.2,731.4 L325.5,729.2 L326.7,727.0 L328.0,724.9 L329.3,722.7 L330.5,720.6 L331.8,718.4 L333.1,716.3 L334.4,714.1 L335.7,712.0 L337.0,709.9 L338.3,707.7 L339.6,705.6 L340.9,703.5 L342.2,701.3 L343.5,699.2 L344.8,697.1 L346.2,695.0 L347.5,692.9 L348.8,690.7 L350.2,688.6 L351.5,686.5 L352.9,684.4 L354.2,682.3 L355.6,680.2 L357.0,678.1 L358.3,676.0 L359.7,674.0 L361.1,671.9 L362.5,669.8 L363.9,667.7 L365.3,665.7 L366.7,663.6 L368.1,661.5 L369.5,659.5 L370.9,657.4 L372.4,655.4 L373.8,653.3 L375.2,651.3 L376.7,649.2 L378.1,647.2 L379.6,645.1 L381.1,643.1 L382.5,641.1 L384.0,639.1 L385.5,637.1 L387.0,635.1 L388.5,633.0 L389.9,631.0 L391.5,629.0 L393.0,627.1 L394.5,625.1 L396.0,623.1 L397.5,621.1 L399.1,619.1 L400.6,617.2 L402.1,615.2 L403.7,613.2 L405.3,611.3 L406.8,609.3 L408.4,607.4 L410.0,605.4 L411.6,603.5 L413.1,601.6 L414.7,599.7 L416.3,597.7 L418.0,595.8 L419.6,593.9 L421.2,592.0 L422.8,590.1 L424.5,588.2 L426.1,586.3 L427.7,584.5 L429.4,582.6 L431.1,580.7 L432.7,578.9 L434.4,577.0 L436.1,575.2 L437.8,573.3 L439.5,571.5 L441.2,569.6 L442.9,567.8 L444.6,566.0 L446.3,564.2 L448.0,562.4 L449.8,560.6 L451.5,558.8 L453.2,557.0 L455.0,555.2 L456.7,553.4 L458.5,551.6 L460.3,549.9 L462.1,548.1 L463.8,546.4 L465.6,544.6 L467.4,542.9 L469.2,541.1 L471.0,539.4 L472.8,537.7 L474.7,536.0 L476.5,534.3 L478.3,532.6 L480.2,530.9 L482.0,529.2 L483.9,527.5 L485.7,525.8 L487.6,524.2 L489.4,522.5 L491.3,520.9 L493.2,519.2 L495.1,517.6 L497.0,515.9 L498.9,514.3 L500.8,512.7 L502.7,511.1 L504.6,509.5 L506.5,507.9 L508.5,506.3 L510.4,504.7 L512.3,503.1 L514.3,501.6 L516.2,500.0 L518.2,498.4 L520.2,496.9 L522.1,495.3 L524.1,493.8 L526.1,492.3 L528.1,490.8 L530.1,489.2 L532.1,487.7 L534.1,486.2 L536.1,484.8 L538.1,483.3 L540.1,481.8 L542.1,480.3 L544.1,478.9 L546.2,477.4 L548.2,476.0 L550.3,474.5 L552.3,473.1 L554.4,471.7 L556.4,470.2 L558.5,468.8 L560.5,467.4 L562.6,466.0 L564.7,464.6 L566.8,463.3 L568.9,461.9 L571.0,460.5 L573.1,459.2 L575.2,457.8 L577.3,456.5 L579.4,455.1 L581.5,453.8 L583.6,452.5 L585.8,451.2 L587.9,449.9 L590.0,448.6 L592.2,447.3 L594.3,446.0 L596.5,444.7 L598.6,443.4 L600.8,442.2 L602.9,440.9 L605.1,439.7 L607.3,438.4 L609.4,437.2 L611.6,436.0 L613.8,434.7 L616.0,433.5 L618.2,432.3 L620.4,431.1 L622.6,429.9 L624.8,428.8 L627.0,427.6 L629.2,426.4 L631.4,425.3 L633.6,424.1 L635.8,423.0 L638.1,421.8 L640.3,420.7 L642.5,419.6 L644.8,418.5 L647.0,417.3 L649.3,416.2 L651.5,415.2 L653.8,414.1 L656.0,413.0 L658.3,411.9 L660.5,410.9 L662.8,409.8 L665.1,408.7 L667.3,407.7 L669.6,406.7 L671.9,405.6 L674.2,404.6 L676.5,403.6 L678.8,402.6 L681.0,401.6 L683.3,400.6 L685.6,399.6 L687.9,398.6 L690.2,397.7 L692.5,396.7 L694.9,395.7 L697.2,394.8 L699.5,393.8 L701.8,392.9 L704.1,392.0 L706.4,391.1 L708.8,390.1 L711.1,389.2 L713.4,388.3 L715.8,387.4 L718.1,386.5 L720.4,385.7 L722.8,384.8 L725.1,383.9 L727.5,383.1 L729.8,382.2 L732.2,381.3 L734.5,380.5 L736.9,379.7 L739.2,378.8 L741.6,378.0 L744.0,377.2 L746.3,376.4 L748.7,375.6 L751.1,374.8 L753.4,374.0 L755.8,373.2 L758.2,372.4 L760.6,371.7 L762.9,370.9 L765.3,370.1 L767.7,369.4 L770.1,368.6 L772.5,367.9 L774.9,367.1 L777.3,366.4 L779.6,365.7 L782.0,365.0 L784.4,364.2 L786.8,363.5 L789.2,362.8 L791.6,362.1 L794.0,361.5 L796.4,360.8 L798.8,360.1 L801.3,359.4 L803.7,358.7 L806.1,358.1 L808.5,357.4 L810.9,356.8 L813.3,356.1 L815.7,355.5 L818.1,354.8 L820.6,354.2 L823.0,353.6 L825.4,353.0 L827.8,352.4 L830.3,351.7 L832.7,351.1 L835.1,350.5 L837.5,349.9 L840.0,349.4 L842.4,348.8 L844.8,348.2 L847.3,347.6 L849.7,347.0 L852.1,346.5 L854.6,345.9 L857.0,345.4 L859.4,344.8 L861.9,344.3 L864.3,343.7 L866.8,343.2 L869.2,342.6 L871.6,342.1 L874.1,341.6 L876.5,341.1 L879.0,340.6 L881.4,340.0 L883.9,339.5 L886.3,339.0 L888.8,338.5 L891.2,338.0 L893.7,337.5 L896.1,337.1 L898.6,336.6 L901.0,336.1 L903.5,335.6 L905.9,335.2 L908.4,334.7 L910.9,334.2 L913.3,333.8 L915.8,333.3 L918.2,332.9 L920.7,332.4 L923.2,332.0 L925.6,331.5 L928.1,331.1 L930.5,330.6 L933.0,330.2 L935.5,329.8 L937.9,329.4 L940.4,328.9 L942.9,328.5 L945.3,328.1 L947.8,327.7 L950.3,327.3 L952.7,326.9 L955.2,326.5 L957.7,326.1 L960.1,325.7 L962.6,325.3 L965.1,324.9 L967.5,324.5 L970.0,324.2 L972.5,323.8 L975.0,323.4 L977.4,323.0 L979.9,322.7 L982.4,322.3 L984.8,321.9 L987.3,321.6 L989.8,321.2 L992.3,320.9 L994.7,320.5 L997.2,320.2 L999.7,319.8 L1002.2,319.5 L1004.6,319.1 L1007.1,318.8 L1009.6,318.4 L1012.1,318.1 L1014.6,317.8 L1017.0,317.4 L1019.5,317.1 L1022.0,316.8 L1024.5,316.5 L1026.9,316.2 L1029.4,315.8 L1031.9,315.5 L1034.4,315.2 L1036.9,314.9 L1039.3,314.6 L1041.8,314.3 L1044.3,314.0 L1046.8,313.7 L1049.3,313.4 L1051.8,313.1 L1054.2,312.8 L1056.7,312.5 L1059.2,312.2 L1061.7,311.9 L1064.2,311.6 L1066.7,311.3 L1069.1,311.1 L1071.6,310.8 L1074.1,310.5 L1076.6,310.2 L1079.1,309.9 L1081.6,309.7 L1084.0,309.4 L1086.5,309.1 L1089.0,308.9 L1091.5,308.6 L1094.0,308.3 L1096.5,308.1 L1099.0,307.8 L1101.5,307.6 L1103.9,307.3 L1106.4,307.0 L1108.9,306.8 L1111.4,306.5 L1113.9,306.3 L1116.4,306.0 L1118.9,305.8 L1121.3,305.5 L1123.8,305.3 L1126.3,305.1 L1128.8,304.8 L1131.3,304.6 L1133.8,304.3 L1136.3,304.1 L1138.8,303.9 L1141.3,303.6 L1143.7,303.4 L1146.2,303.2 L1148.7,302.9 L1151.2,302.7 L1153.7,302.5 L1156.2,302.3 L1158.7,302.0 L1161.2,301.8 L1163.7,301.6 L1166.2,301.4 L1168.6,301.2 L1171.1,300.9 L1173.6,300.7 L1176.1,300.5 L1178.6,300.3 L1181.1,300.1 L1183.6,299.9 L1186.1,299.7 L1188.6,299.5 L1191.1,299.2 L1193.6,299.0 L1196.0,298.8 L1198.5,298.6 L1201.0,298.4 L1203.5,298.2 L1206.0,298.0 L1208.5,297.8 L1211.0,297.6 L1213.5,297.4 L1216.0,297.2 L1218.5,297.0 L1221.0,296.8 L1223.5,296.7 L1226.0,296.5 L1228.4,296.3 L1230.9,296.1 L1233.4,295.9 L1235.9,295.7 L1238.4,295.5 L1240.9,295.3 L1243.4,295.1 L1245.9,295.0 L1248.4,294.8 L1250.9,294.6 L1253.4,294.4 L1255.9,294.2 L1258.4,294.1 L1260.9,293.9 L1263.4,293.7 L1265.8,293.5 L1268.3,293.3 L1270.8,293.2 L1273.3,293.0 L1275.8,292.8 L1278.3,292.6 L1280.8,292.5 L1283.3,292.3 L1285.8,292.1 L1288.3,292.0 L1290.8,291.8 L1293.3,291.6 L1295.8,291.5 L1298.3,291.3 L1300.8,291.1 L1303.3,291.0 L1305.8,290.8 L1308.2,290.6 L1310.7,290.5 L1313.2,290.3 L1315.7,290.2 L1318.2,290.0 L1320.7,289.8 L1323.2,289.7 L1325.7,289.5 L1328.2,289.4 L1330.7,289.2 L1333.2,289.1 L1335.7,288.9 L1338.2,288.7 L1340.7,288.6 L1343.2,288.4 L1345.7,288.3 L1348.2,288.1 L1350.7,288.0 L1353.2,287.8 L1355.7,287.7 L1358.2,287.5 L1360.6,287.4 L1363.1,287.2 L1365.6,287.1 L1368.1,286.9 L1370.6,286.8 L1373.1,286.7 L1375.6,286.5 L1378.1,286.4 L1380.6,286.2 L1383.1,286.1 L1385.6,285.9 L1388.1,285.8 L1390.6,285.6 L1393.1,285.5 L1395.6,285.4 L1398.1,285.2 L1400.6,285.1 L1403.1,285.0 L1405.6,284.8 L1408.1,284.7 L1410.6,284.5 L1413.1,284.4 L1415.6,284.3 L1418.1,284.1 L1420.6,284.0 L1423.0,283.9 L1425.5,283.7 L1428.0,283.6 L1430.5,283.5 L1433.0,283.3 L1435.5,283.2 L1438.0,283.1 L1440.5,282.9 L1443.0,282.8 L1445.5,282.7 L1448.0,282.6 L1450.5,282.4 L1453.0,282.3 L1455.5,282.2 L1458.0,282.0 L1460.5,281.9 L1463.0,281.8 L1465.5,281.7 L1468.0,281.5 L1470.5,281.4 L1473.0,281.3 L1475.5,281.2 L1478.0,281.0 L1480.5,280.9 L1483.0,280.8 L1485.5,280.7 L1488.0,280.6 L1490.5,280.4 L1493.0,280.3 L1495.5,280.2 L1498.0,280.1 L1500.4,280.0 L1502.9,279.8 L1505.4,279.7 L1507.9,279.6 L1510.4,279.5 L1512.9,279.4 L1515.4,279.3 L1517.9,279.1 L1520.4,279.0 L1522.9,278.9 L1525.4,278.8 L1527.9,278.7 L1530.4,278.6 L1532.9,278.4 L1535.4,278.3 L1537.9,278.2 L1540.4,278.1 L1542.9,278.0 L1545.4,277.9 L1547.9,277.8 L1550.4,277.7 L1552.9,277.6 L1555.4,277.4 L1557.9,277.3 L1560.4,277.2 L1562.9,277.1 L1565.4,277.0 L1567.9,276.9 L1570.4,276.8 L1572.9,276.7 L1575.4,276.6 L1577.9,276.5 L1580.4,276.4 L1582.9,276.3 L1585.4,276.1 L1587.9,276.0 L1590.4,275.9 L1592.9,275.8 L1595.4,275.7 L1597.9,275.6 L1600.3,275.5 L1602.8,275.4 L1605.3,275.3 L1607.8,275.2 L1610.3,275.1 L1612.8,275.0 L1615.3,274.9 L1617.8,274.8 L1620.3,274.7 L1622.8,274.6 L1625.3,274.5 L1627.8,274.4 L1630.3,274.3 L1632.8,274.2 L1635.3,274.1 L1637.8,274.0 L1640.3,273.9 L1642.8,273.8 L1645.3,273.7 L1647.8,273.6 L1650.3,273.5 L1652.8,273.4 L1655.3,273.3 L1657.8,273.2 L1660.3,273.1 L1662.8,273.1 L1665.3,273.0 L1667.8,272.9 L1670.3,272.8 L1672.8,272.7 L1675.3,272.6 L1677.8,272.5 L1680.3,272.4 L1682.8,272.3 L1685.3,272.2 L1687.8,272.1 L1690.3,272.0 L1692.8,271.9 L1695.3,271.8 L1697.8,271.8 L1700.3,271.7 L1702.8,271.6 L1705.3,271.5 L1707.8,271.4 L1710.3,271.3 L1712.8,271.2 L1715.3,271.1 L1717.8,271.0 L1720.3,271.0 L1722.8,270.9 L1725.3,270.8 L1727.8,270.7 L1730.3,270.6 L1732.8,270.5 L1733.5,270.5"/>
<path id="blue_dash" stroke="#0000ff" stroke-dasharray="23.5,21.15" stroke-dashoffset="-18.62" d="M175.2,1053.0 L177.8,1053.0 L180.2,1053.0 L182.7,1053.0 L185.2,1053.0 L187.7,1053.0 L190.2,1053.0 L192.7,1053.0 L195.2,1053.0 L197.7,1052.9 L200.2,1052.8 L202.7,1052.7 L205.2,1052.5 L207.7,1052.2 L210.2,1051.8 L212.6,1051.3 L215.0,1050.6 L217.4,1049.8 L219.7,1048.8 L222.0,1047.8 L224.2,1046.5 L226.3,1045.2 L228.3,1043.8 L230.3,1042.2 L232.2,1040.6 L234.1,1039.0 L235.9,1037.2 L237.6,1035.5 L239.3,1033.6 L241.0,1031.8 L242.6,1029.9 L244.2,1028.0 L245.8,1026.0 L247.4,1024.0 L248.9,1022.1 L250.4,1020.1 L251.9,1018.1 L253.3,1016.0 L254.8,1014.0 L256.2,1012.0 L257.7,1009.9 L259.1,1007.9 L260.5,1005.8 L262.0,1003.8 L263.4,1001.7 L264.8,999.6 L266.2,997.6 L267.6,995.5 L269.0,993.5 L270.4,991.4 L271.9,989.3 L273.3,987.3 L274.7,985.2 L276.1,983.2 L277.6,981.1 L279.0,979.1 L280.5,977.0 L281.9,975.0 L283.4,973.0 L284.8,970.9 L286.3,968.9 L287.8,966.9 L289.3,964.9 L290.8,962.9 L292.3,960.9 L293.8,958.9 L295.3,956.9 L296.8,954.9 L298.4,953.0 L299.9,951.0 L301.5,949.0 L303.0,947.1 L304.6,945.1 L306.2,943.2 L307.7,941.3 L309.3,939.3 L310.9,937.4 L312.5,935.5 L314.1,933.6 L315.7,931.6 L317.3,929.7 L319.0,927.8 L320.6,925.9 L322.2,924.0 L323.8,922.1 L325.5,920.2 L327.1,918.4 L328.7,916.5 L330.4,914.6 L332.0,912.7 L333.7,910.8 L335.3,908.9 L337.0,907.1 L338.6,905.2 L340.3,903.3 L341.9,901.4 L343.6,899.6 L345.3,897.7 L346.9,895.8 L348.6,894.0 L350.2,892.1 L351.9,890.2 L353.6,888.3 L355.2,886.5 L356.9,884.6 L358.5,882.7 L360.2,880.9 L361.9,879.0 L363.5,877.1 L365.2,875.3 L366.9,873.4 L368.5,871.5 L370.2,869.7 L371.8,867.8 L373.5,865.9 L375.2,864.1 L376.8,862.2 L378.5,860.4 L380.2,858.5 L381.9,856.6 L383.5,854.8 L385.2,852.9 L386.9,851.1 L388.5,849.2 L390.2,847.3 L391.9,845.5 L393.6,843.6 L395.3,841.8 L396.9,839.9 L398.6,838.1 L400.3,836.2 L402.0,834.4 L403.7,832.6 L405.4,830.7 L407.1,828.9 L408.7,827.0 L410.4,825.2 L412.1,823.4 L413.8,821.5 L415.5,819.7 L417.2,817.9 L418.9,816.0 L420.7,814.2 L422.4,812.4 L424.1,810.6 L425.8,808.7 L427.5,806.9 L429.2,805.1 L430.9,803.3 L432.7,801.5 L434.4,799.7 L436.1,797.9 L437.9,796.1 L439.6,794.3 L441.3,792.5 L443.1,790.7 L444.8,788.9 L446.6,787.1 L448.3,785.3 L450.1,783.5 L451.8,781.7 L453.6,780.0 L455.3,778.2 L457.1,776.4 L458.9,774.6 L460.6,772.9 L462.4,771.1 L464.2,769.3 L465.9,767.6 L467.7,765.8 L469.5,764.1 L471.3,762.3 L473.1,760.6 L474.9,758.8 L476.7,757.1 L478.5,755.3 L480.3,753.6 L482.1,751.9 L483.9,750.1 L485.7,748.4 L487.5,746.7 L489.3,745.0 L491.1,743.3 L492.9,741.5 L494.7,739.8 L496.6,738.1 L498.4,736.4 L500.2,734.7 L502.1,733.0 L503.9,731.3 L505.7,729.6 L507.6,727.9 L509.4,726.2 L511.3,724.6 L513.1,722.9 L515.0,721.2 L516.8,719.5 L518.7,717.9 L520.5,716.2 L522.4,714.5 L524.3,712.9 L526.2,711.2 L528.0,709.5 L529.9,707.9 L531.8,706.2 L533.7,704.6 L535.5,703.0 L537.4,701.3 L539.3,699.7 L541.2,698.0 L543.1,696.4 L545.0,694.8 L546.9,693.2 L548.8,691.5 L550.7,689.9 L552.6,688.3 L554.5,686.7 L556.5,685.1 L558.4,683.5 L560.3,681.9 L562.2,680.3 L564.2,678.7 L566.1,677.1 L568.0,675.5 L570.0,674.0 L571.9,672.4 L573.8,670.8 L575.8,669.2 L577.7,667.7 L579.7,666.1 L581.6,664.5 L583.6,663.0 L585.5,661.4 L587.5,659.9 L589.5,658.3 L591.4,656.8 L593.4,655.2 L595.4,653.7 L597.3,652.2 L599.3,650.6 L601.3,649.1 L603.3,647.6 L605.3,646.1 L607.3,644.5 L609.2,643.0 L611.2,641.5 L613.2,640.0 L615.2,638.5 L617.2,637.0 L619.2,635.5 L621.2,634.0 L623.3,632.6 L625.3,631.1 L627.3,629.6 L629.3,628.1 L631.3,626.6 L633.3,625.2 L635.4,623.7 L637.4,622.2 L639.4,620.8 L641.5,619.3 L643.5,617.9 L645.5,616.4 L647.6,615.0 L649.6,613.5 L651.7,612.1 L653.7,610.7 L655.8,609.2 L657.8,607.8 L659.9,606.4 L661.9,605.0 L664.0,603.6 L666.1,602.2 L668.1,600.7 L670.2,599.3 L672.3,597.9 L674.3,596.5 L676.4,595.2 L678.5,593.8 L680.6,592.4 L682.7,591.0 L684.7,589.6 L686.8,588.2 L688.9,586.9 L691.0,585.5 L693.1,584.1 L695.2,582.8 L697.3,581.4 L699.4,580.1 L701.5,578.7 L703.6,577.4 L705.7,576.0 L707.8,574.7 L709.9,573.4 L712.1,572.0 L714.2,570.7 L716.3,569.4 L718.4,568.0 L720.5,566.7 L722.7,565.4 L724.8,564.1 L726.9,562.8 L729.1,561.5 L731.2,560.2 L733.3,558.9 L735.5,557.6 L737.6,556.3 L739.8,555.0 L741.9,553.8 L744.1,552.5 L746.2,551.2 L748.4,549.9 L750.5,548.7 L752.7,547.4 L754.8,546.1 L757.0,544.9 L759.2,543.6 L761.3,542.4 L763.5,541.1 L765.7,539.9 L767.8,538.7 L770.0,537.4 L772.2,536.2 L774.4,535.0 L776.6,533.8 L778.7,532.5 L780.9,531.3 L783.1,530.1 L785.3,528.9 L787.5,527.7 L789.7,526.5 L791.9,525.3 L794.1,524.1 L796.3,522.9 L798.5,521.7 L800.7,520.6 L802.9,519.4 L805.1,518.2 L807.3,517.0 L809.5,515.9 L811.7,514.7 L813.9,513.5 L816.2,512.4 L818.4,511.2 L820.6,510.1 L822.8,509.0 L825.1,507.8 L827.3,506.7 L829.5,505.5 L831.7,504.4 L834.0,503.3 L836.2,502.2 L838.4,501.1 L840.7,499.9 L842.9,498.8 L845.2,497.7 L847.4,496.6 L849.7,495.5 L851.9,494.4 L854.2,493.3 L856.4,492.3 L858.7,491.2 L860.9,490.1 L863.2,489.0 L865.4,488.0 L867.7,486.9 L870.0,485.8 L872.2,484.8 L874.5,483.7 L876.8,482.7 L879.0,481.6 L881.3,480.6 L883.6,479.5 L885.8,478.5 L888.1,477.5 L890.4,476.4 L892.7,475.4 L895.0,474.4 L897.3,473.4 L899.5,472.4 L901.8,471.4 L904.1,470.4 L906.4,469.4 L908.7,468.4 L911.0,467.4 L913.3,466.4 L915.6,465.4 L917.9,464.4 L920.2,463.4 L922.5,462.5 L924.8,461.5 L927.1,460.5 L929.4,459.6 L931.7,458.6 L934.0,457.7 L936.3,456.7 L938.7,455.8 L941.0,454.8 L943.3,453.9 L945.6,453.0 L947.9,452.0 L950.3,451.1 L952.6,450.2 L954.9,449.3 L957.2,448.4 L959.6,447.5 L961.9,446.5 L964.2,445.6 L966.6,444.7 L968.9,443.9 L971.2,443.0 L973.6,442.1 L975.9,441.2 L978.3,440.3 L980.6,439.4 L982.9,438.6 L985.3,437.7 L987.6,436.8 L990.0,436.0 L992.3,435.1 L994.7,434.3 L997.0,433.4 L999.4,432.6 L1001.7,431.7 L1004.1,430.9 L1006.4,430.1 L1008.8,429.2 L1011.2,428.4 L1013.5,427.6 L1015.9,426.8 L1018.3,426.0 L1020.6,425.2 L1023.0,424.4 L1025.4,423.5 L1027.7,422.7 L1030.1,422.0 L1032.5,421.2 L1034.8,420.4 L1037.2,419.6 L1039.6,418.8 L1042.0,418.0 L1044.3,417.3 L1046.7,416.5 L1049.1,415.7 L1051.5,415.0 L1053.9,414.2 L1056.2,413.4 L1058.6,412.7 L1061.0,411.9 L1063.4,411.2 L1065.8,410.5 L1068.2,409.7 L1070.6,409.0 L1073.0,408.2 L1075.3,407.5 L1077.7,406.8 L1080.1,406.1 L1082.5,405.4 L1084.9,404.6 L1087.3,403.9 L1089.7,403.2 L1092.1,402.5 L1094.5,401.8 L1096.9,401.1 L1099.3,400.4 L1101.7,399.7 L1104.1,399.0 L1106.5,398.4 L1108.9,397.7 L1111.3,397.0 L1113.7,396.3 L1116.2,395.7 L1118.6,395.0 L1121.0,394.3 L1123.4,393.7 L1125.8,393.0 L1128.2,392.3 L1130.6,391.7 L1133.0,391.0 L1135.5,390.4 L1137.9,389.8 L1140.3,389.1 L1142.7,388.5 L1145.1,387.8 L1147.5,387.2 L1150.0,386.6 L1152.4,386.0 L1154.8,385.3 L1157.2,384.7 L1159.6,384.1 L1162.1,383.5 L1164.5,382.9 L1166.9,382.3 L1169.3,381.7 L1171.8,381.1 L1174.2,380.5 L1176.6,379.9 L1179.1,379.3 L1181.5,378.7 L1183.9,378.1 L1186.3,377.5 L1188.8,376.9 L1191.2,376.3 L1193.6,375.8 L1196.1,375.2 L1198.5,374.6 L1200.9,374.1 L1203.4,373.5 L1205.8,372.9 L1208.2,372.4 L1210.7,371.8 L1213.1,371.3 L1215.6,370.7 L1218.0,370.1 L1220.4,369.6 L1222.9,369.1 L1225.3,368.5 L1227.8,368.0 L1230.2,367.4 L1232.6,366.9 L1235.1,366.4 L1237.5,365.8 L1240.0,365.3 L1242.4,364.8 L1244.9,364.3 L1247.3,363.7 L1249.7,363.2 L1252.2,362.7 L1254.6,362.2 L1257.1,361.7 L1259.5,361.2 L1262.0,360.7 L1264.4,360.2 L1266.9,359.6 L1269.3,359.1 L1271.8,358.7 L1274.2,358.2 L1276.7,357.7 L1279.1,357.2 L1281.6,356.7 L1284.0,356.2 L1286.5,355.7 L1288.9,355.2 L1291.4,354.7 L1293.8,354.3 L1296.3,353.8 L1298.8,353.3 L1301.2,352.8 L1303.7,352.4 L1306.1,351.9 L1308.6,351.4 L1311.0,351.0 L1313.5,350.5 L1316.0,350.1 L1318.4,349.6 L1320.9,349.1 L1323.3,348.7 L1325.8,348.2 L1328.2,347.8 L1330.7,347.3 L1333.2,346.9 L1335.6,346.4 L1338.1,346.0 L1340.5,345.6 L1343.0,345.1 L1345.5,344.7 L1347.9,344.3 L1350.4,343.8 L1352.9,343.4 L1355.3,343.0 L1357.8,342.5 L1360.2,342.1 L1362.7,341.7 L1365.2,341.3 L1367.6,340.8 L1370.1,340.4 L1372.6,340.0 L1375.0,339.6 L1377.5,339.2 L1380.0,338.8 L1382.4,338.4 L1384.9,337.9 L1387.4,337.5 L1389.8,337.1 L1392.3,336.7 L1394.8,336.3 L1397.2,335.9 L1399.7,335.5 L1402.2,335.1 L1404.6,334.7 L1407.1,334.3 L1409.6,334.0 L1412.0,333.6 L1414.5,333.2 L1417.0,332.8 L1419.5,332.4 L1421.9,332.0 L1424.4,331.6 L1426.9,331.3 L1429.3,330.9 L1431.8,330.5 L1434.3,330.1 L1436.8,329.7 L1439.2,329.4 L1441.7,329.0 L1444.2,328.6 L1446.6,328.3 L1449.1,327.9 L1451.6,327.5 L1454.1,327.2 L1456.5,326.8 L1459.0,326.4 L1461.5,326.1 L1464.0,325.7 L1466.4,325.4 L1468.9,325.0 L1471.4,324.6 L1473.9,324.3 L1476.3,323.9 L1478.8,323.6 L1481.3,323.2 L1483.8,322.9 L1486.2,322.5 L1488.7,322.2 L1491.2,321.9 L1493.7,321.5 L1496.1,321.2 L1498.6,320.8 L1501.1,320.5 L1503.6,320.1 L1506.0,319.8 L1508.5,319.5 L1511.0,319.1 L1513.5,318.8 L1516.0,318.5 L1518.4,318.1 L1520.9,317.8 L1523.4,317.5 L1525.9,317.2 L1528.3,316.8 L1530.8,316.5 L1533.3,316.2 L1535.8,315.9 L1538.3,315.5 L1540.7,315.2 L1543.2,314.9 L1545.7,314.6 L1548.2,314.3 L1550.7,314.0 L1553.1,313.6 L1555.6,313.3 L1558.1,313.0 L1560.6,312.7 L1563.1,312.4 L1565.5,312.1 L1568.0,311.8 L1570.5,311.5 L1573.0,311.2 L1575.5,310.9 L1577.9,310.6 L1580.4,310.3 L1582.9,309.9 L1585.4,309.6 L1587.9,309.4 L1590.4,309.1 L1592.8,308.8 L1595.3,308.5 L1597.8,308.2 L1600.3,307.9 L1602.8,307.6 L1605.3,307.3 L1607.7,307.0 L1610.2,306.7 L1612.7,306.4 L1615.2,306.1 L1617.7,305.8 L1620.2,305.6 L1622.6,305.3 L1625.1,305.0 L1627.6,304.7 L1630.1,304.4 L1632.6,304.1 L1635.1,303.9 L1637.5,303.6 L1640.0,303.3 L1642.5,303.0 L1645.0,302.7 L1647.5,302.5 L1650.0,302.2 L1652.4,301.9 L1654.9,301.7 L1657.4,301.4 L1659.9,301.1 L1662.4,300.8 L1664.9,300.6 L1667.4,300.3 L1669.8,300.0 L1672.3,299.8 L1674.8,299.5 L1677.3,299.2 L1679.8,299.0 L1682.3,298.7 L1684.8,298.5 L1687.2,298.2 L1689.7,297.9 L1692.2,297.7 L1694.7,297.4 L1697.2,297.2 L1699.7,296.9 L1702.2,296.6 L1704.7,296.4 L1707.1,296.1 L1709.6,295.9 L1712.1,295.6 L1714.6,295.4 L1717.1,295.1 L1719.6,294.9 L1722.1,294.6 L1724.6,294.4 L1727.0,294.1 L1729.5,293.9 L1732.0,293.6 L1733.5,293.5"/>
<path id="red_dd" stroke="#ff0000" stroke-dasharray="22,6.3,10,6.35" stroke-dashoffset="-8.059999999999999" d="M175.2,1053.0 L175.9,1050.6 L176.6,1048.2 L177.4,1045.8 L178.1,1043.4 L178.9,1041.1 L179.8,1038.7 L180.6,1036.4 L181.5,1034.0 L182.5,1031.7 L183.4,1029.4 L184.4,1027.1 L185.5,1024.8 L186.5,1022.6 L187.6,1020.3 L188.7,1018.1 L189.9,1015.9 L191.1,1013.7 L192.2,1011.5 L193.5,1009.3 L194.7,1007.1 L195.9,1004.9 L197.2,1002.8 L198.4,1000.6 L199.7,998.4 L201.0,996.3 L202.2,994.1 L203.5,992.0 L204.8,989.8 L206.1,987.7 L207.3,985.5 L208.6,983.4 L209.9,981.2 L211.1,979.1 L212.4,976.9 L213.6,974.7 L214.9,972.6 L216.2,970.4 L217.4,968.2 L218.6,966.1 L219.9,963.9 L221.1,961.7 L222.4,959.6 L223.6,957.4 L224.8,955.2 L226.1,953.0 L227.3,950.9 L228.5,948.7 L229.8,946.5 L231.0,944.3 L232.2,942.2 L233.4,940.0 L234.7,937.8 L235.9,935.6 L237.1,933.4 L238.4,931.3 L239.6,929.1 L240.8,926.9 L242.1,924.7 L243.3,922.6 L244.5,920.4 L245.8,918.2 L247.0,916.1 L248.2,913.9 L249.5,911.7 L250.7,909.6 L252.0,907.4 L253.2,905.2 L254.5,903.1 L255.8,900.9 L257.0,898.7 L258.3,896.6 L259.6,894.4 L260.8,892.3 L262.1,890.1 L263.4,888.0 L264.7,885.8 L266.0,883.7 L267.3,881.6 L268.6,879.4 L269.9,877.3 L271.2,875.2 L272.5,873.0 L273.8,870.9 L275.1,868.8 L276.4,866.7 L277.8,864.5 L279.1,862.4 L280.4,860.3 L281.8,858.2 L283.1,856.1 L284.5,854.0 L285.8,851.9 L287.2,849.8 L288.5,847.7 L289.9,845.6 L291.3,843.5 L292.7,841.4 L294.1,839.4 L295.4,837.3 L296.8,835.2 L298.2,833.1 L299.6,831.1 L301.0,829.0 L302.5,826.9 L303.9,824.9 L305.3,822.8 L306.7,820.8 L308.2,818.7 L309.6,816.7 L311.0,814.6 L312.5,812.6 L313.9,810.6 L315.4,808.5 L316.9,806.5 L318.3,804.5 L319.8,802.5 L321.3,800.4 L322.8,798.4 L324.3,796.4 L325.7,794.4 L327.2,792.4 L328.8,790.4 L330.3,788.4 L331.8,786.4 L333.3,784.4 L334.8,782.5 L336.3,780.5 L337.9,778.5 L339.4,776.5 L341.0,774.6 L342.5,772.6 L344.1,770.7 L345.6,768.7 L347.2,766.8 L348.8,764.8 L350.4,762.9 L351.9,760.9 L353.5,759.0 L355.1,757.1 L356.7,755.2 L358.3,753.3 L359.9,751.3 L361.6,749.4 L363.2,747.5 L364.8,745.6 L366.4,743.7 L368.1,741.9 L369.7,740.0 L371.4,738.1 L373.0,736.2 L374.7,734.3 L376.4,732.5 L378.0,730.6 L379.7,728.8 L381.4,726.9 L383.1,725.1 L384.8,723.3 L386.5,721.4 L388.2,719.6 L389.9,717.8 L391.6,716.0 L393.3,714.2 L395.1,712.3 L396.8,710.6 L398.6,708.8 L400.3,707.0 L402.1,705.2 L403.8,703.4 L405.6,701.7 L407.4,699.9 L409.1,698.1 L410.9,696.4 L412.7,694.6 L414.5,692.9 L416.3,691.2 L418.1,689.5 L420.0,687.7 L421.8,686.0 L423.6,684.3 L425.5,682.6 L427.3,680.9 L429.1,679.3 L431.0,677.6 L432.9,675.9 L434.7,674.2 L436.6,672.6 L438.5,670.9 L440.4,669.3 L442.3,667.7 L444.2,666.0 L446.1,664.4 L448.0,662.8 L449.9,661.2 L451.8,659.6 L453.7,658.0 L455.7,656.4 L457.6,654.9 L459.6,653.3 L461.5,651.7 L463.5,650.2 L465.5,648.7 L467.4,647.1 L469.4,645.6 L471.4,644.1 L473.4,642.6 L475.4,641.1 L477.4,639.6 L479.4,638.1 L481.4,636.6 L483.4,635.1 L485.5,633.7 L487.5,632.2 L489.5,630.8 L491.6,629.3 L493.6,627.9 L495.7,626.5 L497.8,625.1 L499.8,623.7 L501.9,622.3 L504.0,620.9 L506.1,619.5 L508.2,618.1 L510.3,616.8 L512.4,615.4 L514.5,614.1 L516.6,612.8 L518.7,611.4 L520.8,610.1 L523.0,608.8 L525.1,607.5 L527.2,606.2 L529.4,604.9 L531.5,603.7 L533.7,602.4 L535.8,601.1 L538.0,599.9 L540.2,598.7 L542.4,597.4 L544.5,596.2 L546.7,595.0 L548.9,593.8 L551.1,592.6 L553.3,591.4 L555.5,590.2 L557.7,589.1 L560.0,587.9 L562.2,586.7 L564.4,585.6 L566.6,584.5 L568.9,583.3 L571.1,582.2 L573.3,581.1 L575.6,580.0 L577.8,578.9 L580.1,577.9 L582.3,576.8 L584.6,575.7 L586.9,574.7 L589.1,573.6 L591.4,572.6 L593.7,571.5 L596.0,570.5 L598.3,569.5 L600.5,568.5 L602.8,567.5 L605.1,566.5 L607.4,565.5 L609.7,564.5 L612.0,563.6 L614.3,562.6 L616.7,561.7 L619.0,560.7 L621.3,559.8 L623.6,558.9 L625.9,558.0 L628.3,557.0 L630.6,556.1 L632.9,555.2 L635.3,554.4 L637.6,553.5 L640.0,552.6 L642.3,551.7 L644.6,550.9 L647.0,550.0 L649.4,549.2 L651.7,548.4 L654.1,547.5 L656.4,546.7 L658.8,545.9 L661.2,545.1 L663.5,544.3 L665.9,543.5 L668.3,542.7 L670.6,541.9 L673.0,541.2 L675.4,540.4 L677.8,539.6 L680.2,538.9 L682.6,538.1 L684.9,537.4 L687.3,536.7 L689.7,535.9 L692.1,535.2 L694.5,534.5 L696.9,533.8 L699.3,533.1 L701.7,532.4 L704.1,531.7 L706.5,531.0 L708.9,530.3 L711.3,529.7 L713.7,529.0 L716.2,528.3 L718.6,527.7 L721.0,527.0 L723.4,526.4 L725.8,525.8 L728.2,525.1 L730.7,524.5 L733.1,523.9 L735.5,523.3 L737.9,522.6 L740.4,522.0 L742.8,521.4 L745.2,520.8 L747.6,520.3 L750.1,519.7 L752.5,519.1 L754.9,518.5 L757.4,517.9 L759.8,517.4 L762.2,516.8 L764.7,516.3 L767.1,515.7 L769.6,515.2 L772.0,514.6 L774.4,514.1 L776.9,513.6 L779.3,513.0 L781.8,512.5 L784.2,512.0 L786.7,511.5 L789.1,511.0 L791.6,510.4 L794.0,509.9 L796.4,509.4 L798.9,508.9 L801.4,508.5 L803.8,508.0 L806.3,507.5 L808.7,507.0 L811.2,506.5 L813.6,506.1 L816.1,505.6 L818.5,505.1 L821.0,504.7 L823.4,504.2 L825.9,503.8 L828.4,503.3 L830.8,502.9 L833.3,502.4 L835.7,502.0 L838.2,501.5 L840.7,501.1 L843.1,500.7 L845.6,500.2 L848.1,499.8 L850.5,499.4 L853.0,499.0 L855.5,498.6 L857.9,498.2 L860.4,497.8 L862.9,497.3 L865.3,496.9 L867.8,496.6 L870.3,496.2 L872.7,495.8 L875.2,495.4 L877.7,495.0 L880.1,494.6 L882.6,494.2 L885.1,493.8 L887.5,493.5 L890.0,493.1 L892.5,492.7 L895.0,492.4 L897.4,492.0 L899.9,491.6 L902.4,491.3 L904.9,490.9 L907.3,490.6 L909.8,490.2 L912.3,489.9 L914.8,489.5 L917.2,489.2 L919.7,488.8 L922.2,488.5 L924.7,488.1 L927.1,487.8 L929.6,487.5 L932.1,487.1 L934.6,486.8 L937.1,486.5 L939.5,486.2 L942.0,485.8 L944.5,485.5 L947.0,485.2 L949.5,484.9 L951.9,484.6 L954.4,484.3 L956.9,483.9 L959.4,483.6 L961.9,483.3 L964.3,483.0 L966.8,482.7 L969.3,482.4 L971.8,482.1 L974.3,481.8 L976.8,481.5 L979.2,481.2 L981.7,480.9 L984.2,480.7 L986.7,480.4 L989.2,480.1 L991.7,479.8 L994.1,479.5 L996.6,479.2 L999.1,479.0 L1001.6,478.7 L1004.1,478.4 L1006.6,478.1 L1009.0,477.9 L1011.5,477.6 L1014.0,477.3 L1016.5,477.1 L1019.0,476.8 L1021.5,476.5 L1024.0,476.3 L1026.4,476.0 L1028.9,475.8 L1031.4,475.5 L1033.9,475.2 L1036.4,475.0 L1038.9,474.7 L1041.4,474.5 L1043.9,474.2 L1046.3,474.0 L1048.8,473.7 L1051.3,473.5 L1053.8,473.3 L1056.3,473.0 L1058.8,472.8 L1061.3,472.5 L1063.8,472.3 L1066.2,472.1 L1068.7,471.8 L1071.2,471.6 L1073.7,471.4 L1076.2,471.1 L1078.7,470.9 L1081.2,470.7 L1083.7,470.4 L1086.2,470.2 L1088.7,470.0 L1091.1,469.8 L1093.6,469.5 L1096.1,469.3 L1098.6,469.1 L1101.1,468.9 L1103.6,468.7 L1106.1,468.4 L1108.6,468.2 L1111.1,468.0 L1113.6,467.8 L1116.0,467.6 L1118.5,467.4 L1121.0,467.2 L1123.5,467.0 L1126.0,466.8 L1128.5,466.6 L1131.0,466.3 L1133.5,466.1 L1136.0,465.9 L1138.5,465.7 L1141.0,465.5 L1143.5,465.3 L1145.9,465.1 L1148.4,464.9 L1150.9,464.7 L1153.4,464.6 L1155.9,464.4 L1158.4,464.2 L1160.9,464.0 L1163.4,463.8 L1165.9,463.6 L1168.4,463.4 L1170.9,463.2 L1173.4,463.0 L1175.9,462.8 L1178.4,462.7 L1180.8,462.5 L1183.3,462.3 L1185.8,462.1 L1188.3,461.9 L1190.8,461.8 L1193.3,461.6 L1195.8,461.4 L1198.3,461.2 L1200.8,461.0 L1203.3,460.9 L1205.8,460.7 L1208.3,460.5 L1210.8,460.4 L1213.3,460.2 L1215.8,460.0 L1218.3,459.8 L1220.7,459.7 L1223.2,459.5 L1225.7,459.3 L1228.2,459.2 L1230.7,459.0 L1233.2,458.8 L1235.7,458.7 L1238.2,458.5 L1240.7,458.4 L1243.2,458.2 L1245.7,458.0 L1248.2,457.9 L1250.7,457.7 L1253.2,457.6 L1255.7,457.4 L1258.2,457.2 L1260.7,457.1 L1263.2,456.9 L1265.7,456.8 L1268.1,456.6 L1270.6,456.5 L1273.1,456.3 L1275.6,456.2 L1278.1,456.0 L1280.6,455.9 L1283.1,455.7 L1285.6,455.6 L1288.1,455.4 L1290.6,455.3 L1293.1,455.1 L1295.6,455.0 L1298.1,454.8 L1300.6,454.7 L1303.1,454.6 L1305.6,454.4 L1308.1,454.3 L1310.6,454.1 L1313.1,454.0 L1315.6,453.9 L1318.1,453.7 L1320.6,453.6 L1323.1,453.4 L1325.6,453.3 L1328.1,453.2 L1330.5,453.0 L1333.0,452.9 L1335.5,452.8 L1338.0,452.6 L1340.5,452.5 L1343.0,452.4 L1345.5,452.2 L1348.0,452.1 L1350.5,452.0 L1353.0,451.8 L1355.5,451.7 L1358.0,451.6 L1360.5,451.5 L1363.0,451.3 L1365.5,451.2 L1368.0,451.1 L1370.5,451.0 L1373.0,450.8 L1375.5,450.7 L1378.0,450.6 L1380.5,450.5 L1383.0,450.3 L1385.5,450.2 L1388.0,450.1 L1390.5,450.0 L1393.0,449.9 L1395.5,449.7 L1398.0,449.6 L1400.5,449.5 L1403.0,449.4 L1405.5,449.3 L1407.9,449.1 L1410.4,449.0 L1412.9,448.9 L1415.4,448.8 L1417.9,448.7 L1420.4,448.6 L1422.9,448.5 L1425.4,448.3 L1427.9,448.2 L1430.4,448.1 L1432.9,448.0 L1435.4,447.9 L1437.9,447.8 L1440.4,447.7 L1442.9,447.6 L1445.4,447.5 L1447.9,447.4 L1450.4,447.2 L1452.9,447.1 L1455.4,447.0 L1457.9,446.9 L1460.4,446.8 L1462.9,446.7 L1465.4,446.6 L1467.9,446.5 L1470.4,446.4 L1472.9,446.3 L1475.4,446.2 L1477.9,446.1 L1480.4,446.0 L1482.9,445.9 L1485.4,445.8 L1487.9,445.7 L1490.4,445.6 L1492.9,445.5 L1495.4,445.4 L1497.9,445.3 L1500.4,445.2 L1502.9,445.1 L1505.4,445.0 L1507.9,444.9 L1510.4,444.8 L1512.9,444.7 L1515.4,444.6 L1517.9,444.5 L1520.3,444.4 L1522.8,444.3 L1525.3,444.2 L1527.8,444.1 L1530.3,444.0 L1532.8,443.9 L1535.3,443.9 L1537.8,443.8 L1540.3,443.7 L1542.8,443.6 L1545.3,443.5 L1547.8,443.4 L1550.3,443.3 L1552.8,443.2 L1555.3,443.1 L1557.8,443.0 L1560.3,442.9 L1562.8,442.9 L1565.3,442.8 L1567.8,442.7 L1570.3,442.6 L1572.8,442.5 L1575.3,442.4 L1577.8,442.3 L1580.3,442.2 L1582.8,442.2 L1585.3,442.1 L1587.8,442.0 L1590.3,441.9 L1592.8,441.8 L1595.3,441.7 L1597.8,441.6 L1600.3,441.6 L1602.8,441.5 L1605.3,441.4 L1607.8,441.3 L1610.3,441.2 L1612.8,441.2 L1615.3,441.1 L1617.8,441.0 L1620.3,440.9 L1622.8,440.8 L1625.3,440.7 L1627.8,440.7 L1630.3,440.6 L1632.8,440.5 L1635.3,440.4 L1637.8,440.3 L1640.3,440.3 L1642.8,440.2 L1645.3,440.1 L1647.8,440.0 L1650.3,440.0 L1652.8,439.9 L1655.3,439.8 L1657.8,439.7 L1660.3,439.6 L1662.8,439.6 L1665.3,439.5 L1667.8,439.4 L1670.3,439.3 L1672.8,439.3 L1675.3,439.2 L1677.8,439.1 L1680.3,439.0 L1682.8,439.0 L1685.3,438.9 L1687.8,438.8 L1690.3,438.7 L1692.8,438.7 L1695.3,438.6 L1697.8,438.5 L1700.2,438.5 L1702.7,438.4 L1705.2,438.3 L1707.7,438.2 L1710.2,438.2 L1712.7,438.1 L1715.2,438.0 L1717.7,438.0 L1720.2,437.9 L1722.7,437.8 L1725.2,437.7 L1727.7,437.7 L1730.2,437.6 L1732.7,437.5 L1733.5,437.5"/>
<path id="blue_dd" stroke="#0000ff" stroke-dasharray="22,6.3,10,6.35" stroke-dashoffset="-3.1999999999999993" d="M175.2,1053.0 L177.8,1053.0 L180.2,1053.0 L182.7,1053.0 L185.2,1053.0 L187.7,1053.0 L190.2,1053.0 L192.7,1053.0 L195.2,1053.0 L197.7,1052.9 L200.2,1052.8 L202.7,1052.7 L205.2,1052.5 L207.7,1052.2 L210.2,1051.8 L212.6,1051.3 L215.1,1050.7 L217.4,1049.9 L219.8,1049.0 L222.1,1048.0 L224.3,1046.9 L226.4,1045.6 L228.5,1044.2 L230.6,1042.8 L232.6,1041.3 L234.5,1039.7 L236.4,1038.1 L238.2,1036.4 L240.1,1034.7 L241.8,1032.9 L243.6,1031.1 L245.3,1029.3 L247.0,1027.5 L248.7,1025.6 L250.4,1023.8 L252.0,1021.9 L253.7,1020.0 L255.3,1018.1 L256.9,1016.2 L258.6,1014.3 L260.2,1012.4 L261.8,1010.5 L263.4,1008.6 L265.0,1006.7 L266.7,1004.8 L268.3,1002.9 L269.9,1001.0 L271.6,999.2 L273.2,997.3 L274.9,995.4 L276.6,993.6 L278.2,991.7 L279.9,989.9 L281.6,988.0 L283.3,986.2 L285.1,984.4 L286.8,982.6 L288.5,980.8 L290.3,979.0 L292.0,977.2 L293.8,975.4 L295.6,973.7 L297.4,971.9 L299.2,970.2 L301.0,968.5 L302.8,966.7 L304.6,965.0 L306.4,963.3 L308.2,961.6 L310.1,959.9 L311.9,958.2 L313.8,956.5 L315.6,954.9 L317.5,953.2 L319.3,951.5 L321.2,949.8 L323.0,948.1 L324.9,946.5 L326.7,944.8 L328.6,943.1 L330.5,941.5 L332.3,939.8 L334.2,938.1 L336.0,936.4 L337.9,934.8 L339.7,933.1 L341.6,931.4 L343.5,929.7 L345.3,928.1 L347.2,926.4 L349.0,924.7 L350.9,923.0 L352.7,921.3 L354.6,919.7 L356.4,918.0 L358.3,916.3 L360.1,914.6 L361.9,912.9 L363.8,911.2 L365.6,909.5 L367.5,907.9 L369.3,906.2 L371.2,904.5 L373.0,902.8 L374.9,901.1 L376.7,899.4 L378.6,897.7 L380.4,896.1 L382.3,894.4 L384.1,892.7 L386.0,891.0 L387.8,889.3 L389.7,887.7 L391.5,886.0 L393.4,884.3 L395.2,882.6 L397.1,881.0 L399.0,879.3 L400.8,877.6 L402.7,876.0 L404.6,874.3 L406.4,872.7 L408.3,871.0 L410.2,869.4 L412.1,867.7 L414.0,866.1 L415.9,864.4 L417.7,862.8 L419.6,861.2 L421.5,859.5 L423.4,857.9 L425.3,856.3 L427.2,854.7 L429.2,853.1 L431.1,851.5 L433.0,849.8 L434.9,848.2 L436.8,846.7 L438.7,845.1 L440.7,843.5 L442.6,841.9 L444.5,840.3 L446.5,838.7 L448.4,837.1 L450.4,835.6 L452.3,834.0 L454.3,832.5 L456.2,830.9 L458.2,829.3 L460.2,827.8 L462.1,826.2 L464.1,824.7 L466.1,823.2 L468.0,821.6 L470.0,820.1 L472.0,818.6 L474.0,817.1 L476.0,815.5 L478.0,814.0 L479.9,812.5 L481.9,811.0 L483.9,809.5 L485.9,808.0 L487.9,806.5 L490.0,805.0 L492.0,803.5 L494.0,802.1 L496.0,800.6 L498.0,799.1 L500.0,797.6 L502.0,796.2 L504.1,794.7 L506.1,793.2 L508.1,791.8 L510.2,790.3 L512.2,788.9 L514.2,787.4 L516.3,786.0 L518.3,784.5 L520.4,783.1 L522.4,781.7 L524.5,780.2 L526.5,778.8 L528.6,777.4 L530.6,776.0 L532.7,774.5 L534.8,773.1 L536.8,771.7 L538.9,770.3 L541.0,768.9 L543.0,767.5 L545.1,766.1 L547.2,764.7 L549.3,763.3 L551.3,762.0 L553.4,760.6 L555.5,759.2 L557.6,757.8 L559.7,756.5 L561.8,755.1 L563.9,753.7 L566.0,752.4 L568.1,751.0 L570.2,749.7 L572.3,748.3 L574.4,747.0 L576.5,745.6 L578.6,744.3 L580.7,743.0 L582.8,741.6 L585.0,740.3 L587.1,739.0 L589.2,737.7 L591.3,736.3 L593.5,735.0 L595.6,733.7 L597.7,732.4 L599.9,731.1 L602.0,729.8 L604.2,728.6 L606.3,727.3 L608.4,726.0 L610.6,724.7 L612.8,723.4 L614.9,722.2 L617.1,720.9 L619.2,719.6 L621.4,718.4 L623.6,717.1 L625.7,715.9 L627.9,714.7 L630.1,713.4 L632.2,712.2 L634.4,711.0 L636.6,709.7 L638.8,708.5 L641.0,707.3 L643.1,706.1 L645.3,704.9 L647.5,703.7 L649.7,702.5 L651.9,701.3 L654.1,700.1 L656.3,698.9 L658.5,697.7 L660.7,696.6 L662.9,695.4 L665.1,694.2 L667.4,693.0 L669.6,691.9 L671.8,690.7 L674.0,689.6 L676.2,688.4 L678.5,687.3 L680.7,686.2 L682.9,685.0 L685.1,683.9 L687.4,682.8 L689.6,681.7 L691.9,680.6 L694.1,679.4 L696.3,678.3 L698.6,677.2 L700.8,676.1 L703.1,675.0 L705.3,674.0 L707.6,672.9 L709.8,671.8 L712.1,670.7 L714.4,669.6 L716.6,668.6 L718.9,667.5 L721.1,666.5 L723.4,665.4 L725.7,664.4 L727.9,663.3 L730.2,662.3 L732.5,661.2 L734.8,660.2 L737.0,659.2 L739.3,658.1 L741.6,657.1 L743.9,656.1 L746.2,655.1 L748.5,654.1 L750.7,653.1 L753.0,652.0 L755.3,651.0 L757.6,650.1 L759.9,649.1 L762.2,648.1 L764.5,647.1 L766.8,646.1 L769.1,645.1 L771.4,644.1 L773.7,643.2 L776.0,642.2 L778.3,641.2 L780.6,640.3 L782.9,639.3 L785.2,638.4 L787.6,637.4 L789.9,636.5 L792.2,635.5 L794.5,634.6 L796.8,633.6 L799.1,632.7 L801.5,631.8 L803.8,630.8 L806.1,629.9 L808.4,629.0 L810.7,628.1 L813.1,627.2 L815.4,626.2 L817.7,625.3 L820.1,624.4 L822.4,623.5 L824.7,622.6 L827.1,621.7 L829.4,620.8 L831.7,619.9 L834.1,619.0 L836.4,618.2 L838.7,617.3 L841.1,616.4 L843.4,615.5 L845.8,614.6 L848.1,613.8 L850.4,612.9 L852.8,612.0 L855.1,611.2 L857.5,610.3 L859.8,609.4 L862.2,608.6 L864.5,607.7 L866.9,606.9 L869.2,606.0 L871.6,605.2 L873.9,604.4 L876.3,603.5 L878.7,602.7 L881.0,601.8 L883.4,601.0 L885.7,600.2 L888.1,599.4 L890.4,598.5 L892.8,597.7 L895.2,596.9 L897.5,596.1 L899.9,595.3 L902.3,594.5 L904.6,593.7 L907.0,592.9 L909.4,592.1 L911.7,591.3 L914.1,590.5 L916.5,589.7 L918.8,588.9 L921.2,588.1 L923.6,587.3 L926.0,586.5 L928.3,585.7 L930.7,585.0 L933.1,584.2 L935.5,583.4 L937.9,582.6 L940.2,581.9 L942.6,581.1 L945.0,580.4 L947.4,579.6 L949.8,578.8 L952.1,578.1 L954.5,577.3 L956.9,576.6 L959.3,575.8 L961.7,575.1 L964.1,574.4 L966.5,573.6 L968.9,572.9 L971.2,572.2 L973.6,571.4 L976.0,570.7 L978.4,570.0 L980.8,569.3 L983.2,568.6 L985.6,567.8 L988.0,567.1 L990.4,566.4 L992.8,565.7 L995.2,565.0 L997.6,564.3 L1000.0,563.6 L1002.4,562.9 L1004.8,562.2 L1007.2,561.5 L1009.6,560.9 L1012.0,560.2 L1014.4,559.5 L1016.8,558.8 L1019.2,558.2 L1021.6,557.5 L1024.1,556.8 L1026.5,556.1 L1028.9,555.5 L1031.3,554.8 L1033.7,554.2 L1036.1,553.5 L1038.5,552.9 L1040.9,552.2 L1043.4,551.6 L1045.8,550.9 L1048.2,550.3 L1050.6,549.7 L1053.0,549.0 L1055.5,548.4 L1057.9,547.8 L1060.3,547.2 L1062.7,546.5 L1065.1,545.9 L1067.6,545.3 L1070.0,544.7 L1072.4,544.1 L1074.8,543.5 L1077.3,542.9 L1079.7,542.3 L1082.1,541.7 L1084.5,541.1 L1087.0,540.5 L1089.4,539.9 L1091.8,539.3 L1094.3,538.8 L1096.7,538.2 L1099.1,537.6 L1101.6,537.0 L1104.0,536.5 L1106.4,535.9 L1108.9,535.3 L1111.3,534.8 L1113.7,534.2 L1116.2,533.7 L1118.6,533.1 L1121.1,532.6 L1123.5,532.0 L1125.9,531.5 L1128.4,530.9 L1130.8,530.4 L1133.3,529.9 L1135.7,529.4 L1138.2,528.8 L1140.6,528.3 L1143.0,527.8 L1145.5,527.3 L1147.9,526.8 L1150.4,526.2 L1152.8,525.7 L1155.3,525.2 L1157.7,524.7 L1160.2,524.2 L1162.6,523.7 L1165.1,523.2 L1167.5,522.7 L1170.0,522.3 L1172.4,521.8 L1174.9,521.3 L1177.3,520.8 L1179.8,520.3 L1182.3,519.9 L1184.7,519.4 L1187.2,518.9 L1189.6,518.5 L1192.1,518.0 L1194.5,517.5 L1197.0,517.1 L1199.5,516.6 L1201.9,516.2 L1204.4,515.7 L1206.8,515.3 L1209.3,514.9 L1211.8,514.4 L1214.2,514.0 L1216.7,513.5 L1219.1,513.1 L1221.6,512.7 L1224.1,512.3 L1226.5,511.8 L1229.0,511.4 L1231.5,511.0 L1233.9,510.6 L1236.4,510.2 L1238.9,509.8 L1241.3,509.4 L1243.8,509.0 L1246.3,508.6 L1248.7,508.2 L1251.2,507.8 L1253.7,507.4 L1256.1,507.0 L1258.6,506.6 L1261.1,506.2 L1263.5,505.8 L1266.0,505.4 L1268.5,505.1 L1271.0,504.7 L1273.4,504.3 L1275.9,503.9 L1278.4,503.6 L1280.8,503.2 L1283.3,502.8 L1285.8,502.5 L1288.3,502.1 L1290.7,501.8 L1293.2,501.4 L1295.7,501.0 L1298.2,500.7 L1300.6,500.3 L1303.1,500.0 L1305.6,499.7 L1308.1,499.3 L1310.6,499.0 L1313.0,498.6 L1315.5,498.3 L1318.0,498.0 L1320.5,497.6 L1322.9,497.3 L1325.4,497.0 L1327.9,496.7 L1330.4,496.3 L1332.9,496.0 L1335.3,495.7 L1337.8,495.4 L1340.3,495.1 L1342.8,494.7 L1345.3,494.4 L1347.7,494.1 L1350.2,493.8 L1352.7,493.5 L1355.2,493.2 L1357.7,492.9 L1360.1,492.6 L1362.6,492.3 L1365.1,492.0 L1367.6,491.7 L1370.1,491.4 L1372.6,491.1 L1375.0,490.8 L1377.5,490.5 L1380.0,490.3 L1382.5,490.0 L1385.0,489.7 L1387.5,489.4 L1389.9,489.1 L1392.4,488.9 L1394.9,488.6 L1397.4,488.3 L1399.9,488.0 L1402.4,487.8 L1404.9,487.5 L1407.3,487.2 L1409.8,486.9 L1412.3,486.7 L1414.8,486.4 L1417.3,486.1 L1419.8,485.9 L1422.3,485.6 L1424.7,485.4 L1427.2,485.1 L1429.7,484.8 L1432.2,484.6 L1434.7,484.3 L1437.2,484.1 L1439.7,483.8 L1442.1,483.6 L1444.6,483.3 L1447.1,483.1 L1449.6,482.8 L1452.1,482.6 L1454.6,482.3 L1457.1,482.1 L1459.6,481.8 L1462.0,481.6 L1464.5,481.4 L1467.0,481.1 L1469.5,480.9 L1472.0,480.6 L1474.5,480.4 L1477.0,480.2 L1479.5,479.9 L1482.0,479.7 L1484.4,479.5 L1486.9,479.2 L1489.4,479.0 L1491.9,478.8 L1494.4,478.5 L1496.9,478.3 L1499.4,478.1 L1501.9,477.8 L1504.4,477.6 L1506.9,477.4 L1509.3,477.2 L1511.8,476.9 L1514.3,476.7 L1516.8,476.5 L1519.3,476.3 L1521.8,476.0 L1524.3,475.8 L1526.8,475.6 L1529.3,475.4 L1531.8,475.2 L1534.2,474.9 L1536.7,474.7 L1539.2,474.5 L1541.7,474.3 L1544.2,474.1 L1546.7,473.8 L1549.2,473.6 L1551.7,473.4 L1554.2,473.2 L1556.7,473.0 L1559.1,472.8 L1561.6,472.6 L1564.1,472.3 L1566.6,472.1 L1569.1,471.9 L1571.6,471.7 L1574.1,471.5 L1576.6,471.3 L1579.1,471.1 L1581.6,470.8 L1584.1,470.6 L1586.5,470.4 L1589.0,470.2 L1591.5,470.0 L1594.0,469.8 L1596.5,469.6 L1599.0,469.4 L1601.5,469.2 L1604.0,469.0 L1606.5,468.7 L1609.0,468.5 L1611.5,468.3 L1613.9,468.1 L1616.4,467.9 L1618.9,467.7 L1621.4,467.5 L1623.9,467.3 L1626.4,467.1 L1628.9,466.9 L1631.4,466.6 L1633.9,466.4 L1636.4,466.2 L1638.9,466.0 L1641.4,465.8 L1643.8,465.6 L1646.3,465.4 L1648.8,465.2 L1651.3,465.0 L1653.8,464.8 L1656.3,464.6 L1658.8,464.4 L1661.3,464.1 L1663.8,463.9 L1666.3,463.7 L1668.8,463.5 L1671.2,463.3 L1673.7,463.1 L1676.2,462.9 L1678.7,462.7 L1681.2,462.5 L1683.7,462.3 L1686.2,462.0 L1688.7,461.8 L1691.2,461.6 L1693.7,461.4 L1696.2,461.2 L1698.7,461.0 L1701.1,460.8 L1703.6,460.6 L1706.1,460.4 L1708.6,460.1 L1711.1,459.9 L1713.6,459.7 L1716.1,459.5 L1718.6,459.3 L1721.1,459.1 L1723.6,458.9 L1726.1,458.6 L1728.5,458.4 L1731.0,458.2 L1733.5,458.0"/>
</g>
<text class="tk" x="175.10" y="1109.5" text-anchor="middle">0</text><text class="tk" x="331.45" y="1109.5" text-anchor="middle" style="letter-spacing:-1.1px">0.1</text><text class="tk" x="487.25" y="1109.5" text-anchor="middle" style="letter-spacing:-1.1px">0.2</text><text class="tk" x="643.05" y="1109.5" text-anchor="middle" style="letter-spacing:-1.1px">0.3</text><text class="tk" x="798.85" y="1109.5" text-anchor="middle" style="letter-spacing:-1.1px">0.4</text><text class="tk" x="954.65" y="1109.5" text-anchor="middle" style="letter-spacing:-1.1px">0.5</text><text class="tk" x="1110.45" y="1109.5" text-anchor="middle" style="letter-spacing:-1.1px">0.6</text><text class="tk" x="1266.25" y="1109.5" text-anchor="middle" style="letter-spacing:-1.1px">0.7</text><text class="tk" x="1422.05" y="1109.5" text-anchor="middle" style="letter-spacing:-1.1px">0.8</text><text class="tk" x="1577.85" y="1109.5" text-anchor="middle" style="letter-spacing:-1.1px">0.9</text><text class="tk" x="1733.10" y="1109.5" text-anchor="middle">1</text><text class="tk" x="158.0" y="1065.40" text-anchor="end" style="letter-spacing:-0.5px">0</text><text class="tk" x="158.0" y="921.40" text-anchor="end" style="letter-spacing:-0.5px">20</text><text class="tk" x="158.0" y="777.40" text-anchor="end" style="letter-spacing:-0.5px">40</text><text class="tk" x="158.0" y="636.40" text-anchor="end" style="letter-spacing:-0.5px">60</text><text class="tk" x="158.0" y="492.40" text-anchor="end" style="letter-spacing:-0.5px">80</text><text class="tk" x="158.0" y="348.40" text-anchor="end" style="letter-spacing:-0.5px">100</text><text class="tk" x="158.0" y="207.40" text-anchor="end" style="letter-spacing:-0.5px">120</text><text class="tk" x="158.0" y="63.40" text-anchor="end" style="letter-spacing:-0.5px">140</text>
<text class="lb" x="955" y="1167" text-anchor="middle">t (s)</text>
<text class="lb" transform="translate(64,643) rotate(-90)"><tspan x="1.85" y="0" font-size="44px">σ</tspan><tspan x="27.9" y="0"> </tspan><tspan x="41.9" y="0">(</tspan><tspan x="55.65" y="0">m</tspan><tspan x="97.5" y="0">m</tspan><tspan x="138.1" y="-22.7" font-size="36px">-</tspan><tspan x="151.95" y="-22.7" font-size="36px">3</tspan><tspan x="174.45" y="0">)</tspan></text>
<rect x="1080.25" y="731.5" width="628.25" height="293.5" fill="#ffffff" stroke="#8a8a8a" stroke-width="6.0"/>
<path d="M1100,760.75H1217" stroke="#ff0000" stroke-width="6.0" fill="none"/><text class="lg" x="1224" y="773.30">Z=6, Pc=0.2488, x=0.01m</text>
<path d="M1100,807.5H1217" stroke="#0000ff" stroke-width="6.0" fill="none"/><text class="lg" x="1224" y="818.00">Z=6, Pc=0.2488, x=0.06m</text>
<path d="M1100,854.5H1125M1147.5,854.5H1169.5M1192,854.5H1217" stroke="#ff0000" stroke-width="6.0" fill="none"/><text class="lg" x="1224" y="865.30">Z=8, Pc=0.1795, x=0.01m</text>
<path d="M1100,901.25H1125M1147.5,901.25H1169.5M1192,901.25H1217" stroke="#0000ff" stroke-width="6.0" fill="none"/><text class="lg" x="1224" y="912.30">Z=8, Pc=0.1795, x=0.06m</text>
<path d="M1100,948.25H1125M1130.5,948.25H1141.5M1147.5,948.25H1169.5M1175,948.25H1186.5M1192,948.25H1217" stroke="#ff0000" stroke-width="6.0" fill="none"/><text class="lg" x="1224" y="961.00">Z=12, Pc=0.1190, x=0.01m</text>
<path d="M1100,995.0H1125M1130.5,995.0H1141.5M1147.5,995.0H1169.5M1175,995.0H1186.5M1192,995.0H1217" stroke="#0000ff" stroke-width="6.0" fill="none"/><text class="lg" x="1224" y="1005.80">Z=12, Pc=0.1190, x=0.06m</text>
</svg>
</body></html>
